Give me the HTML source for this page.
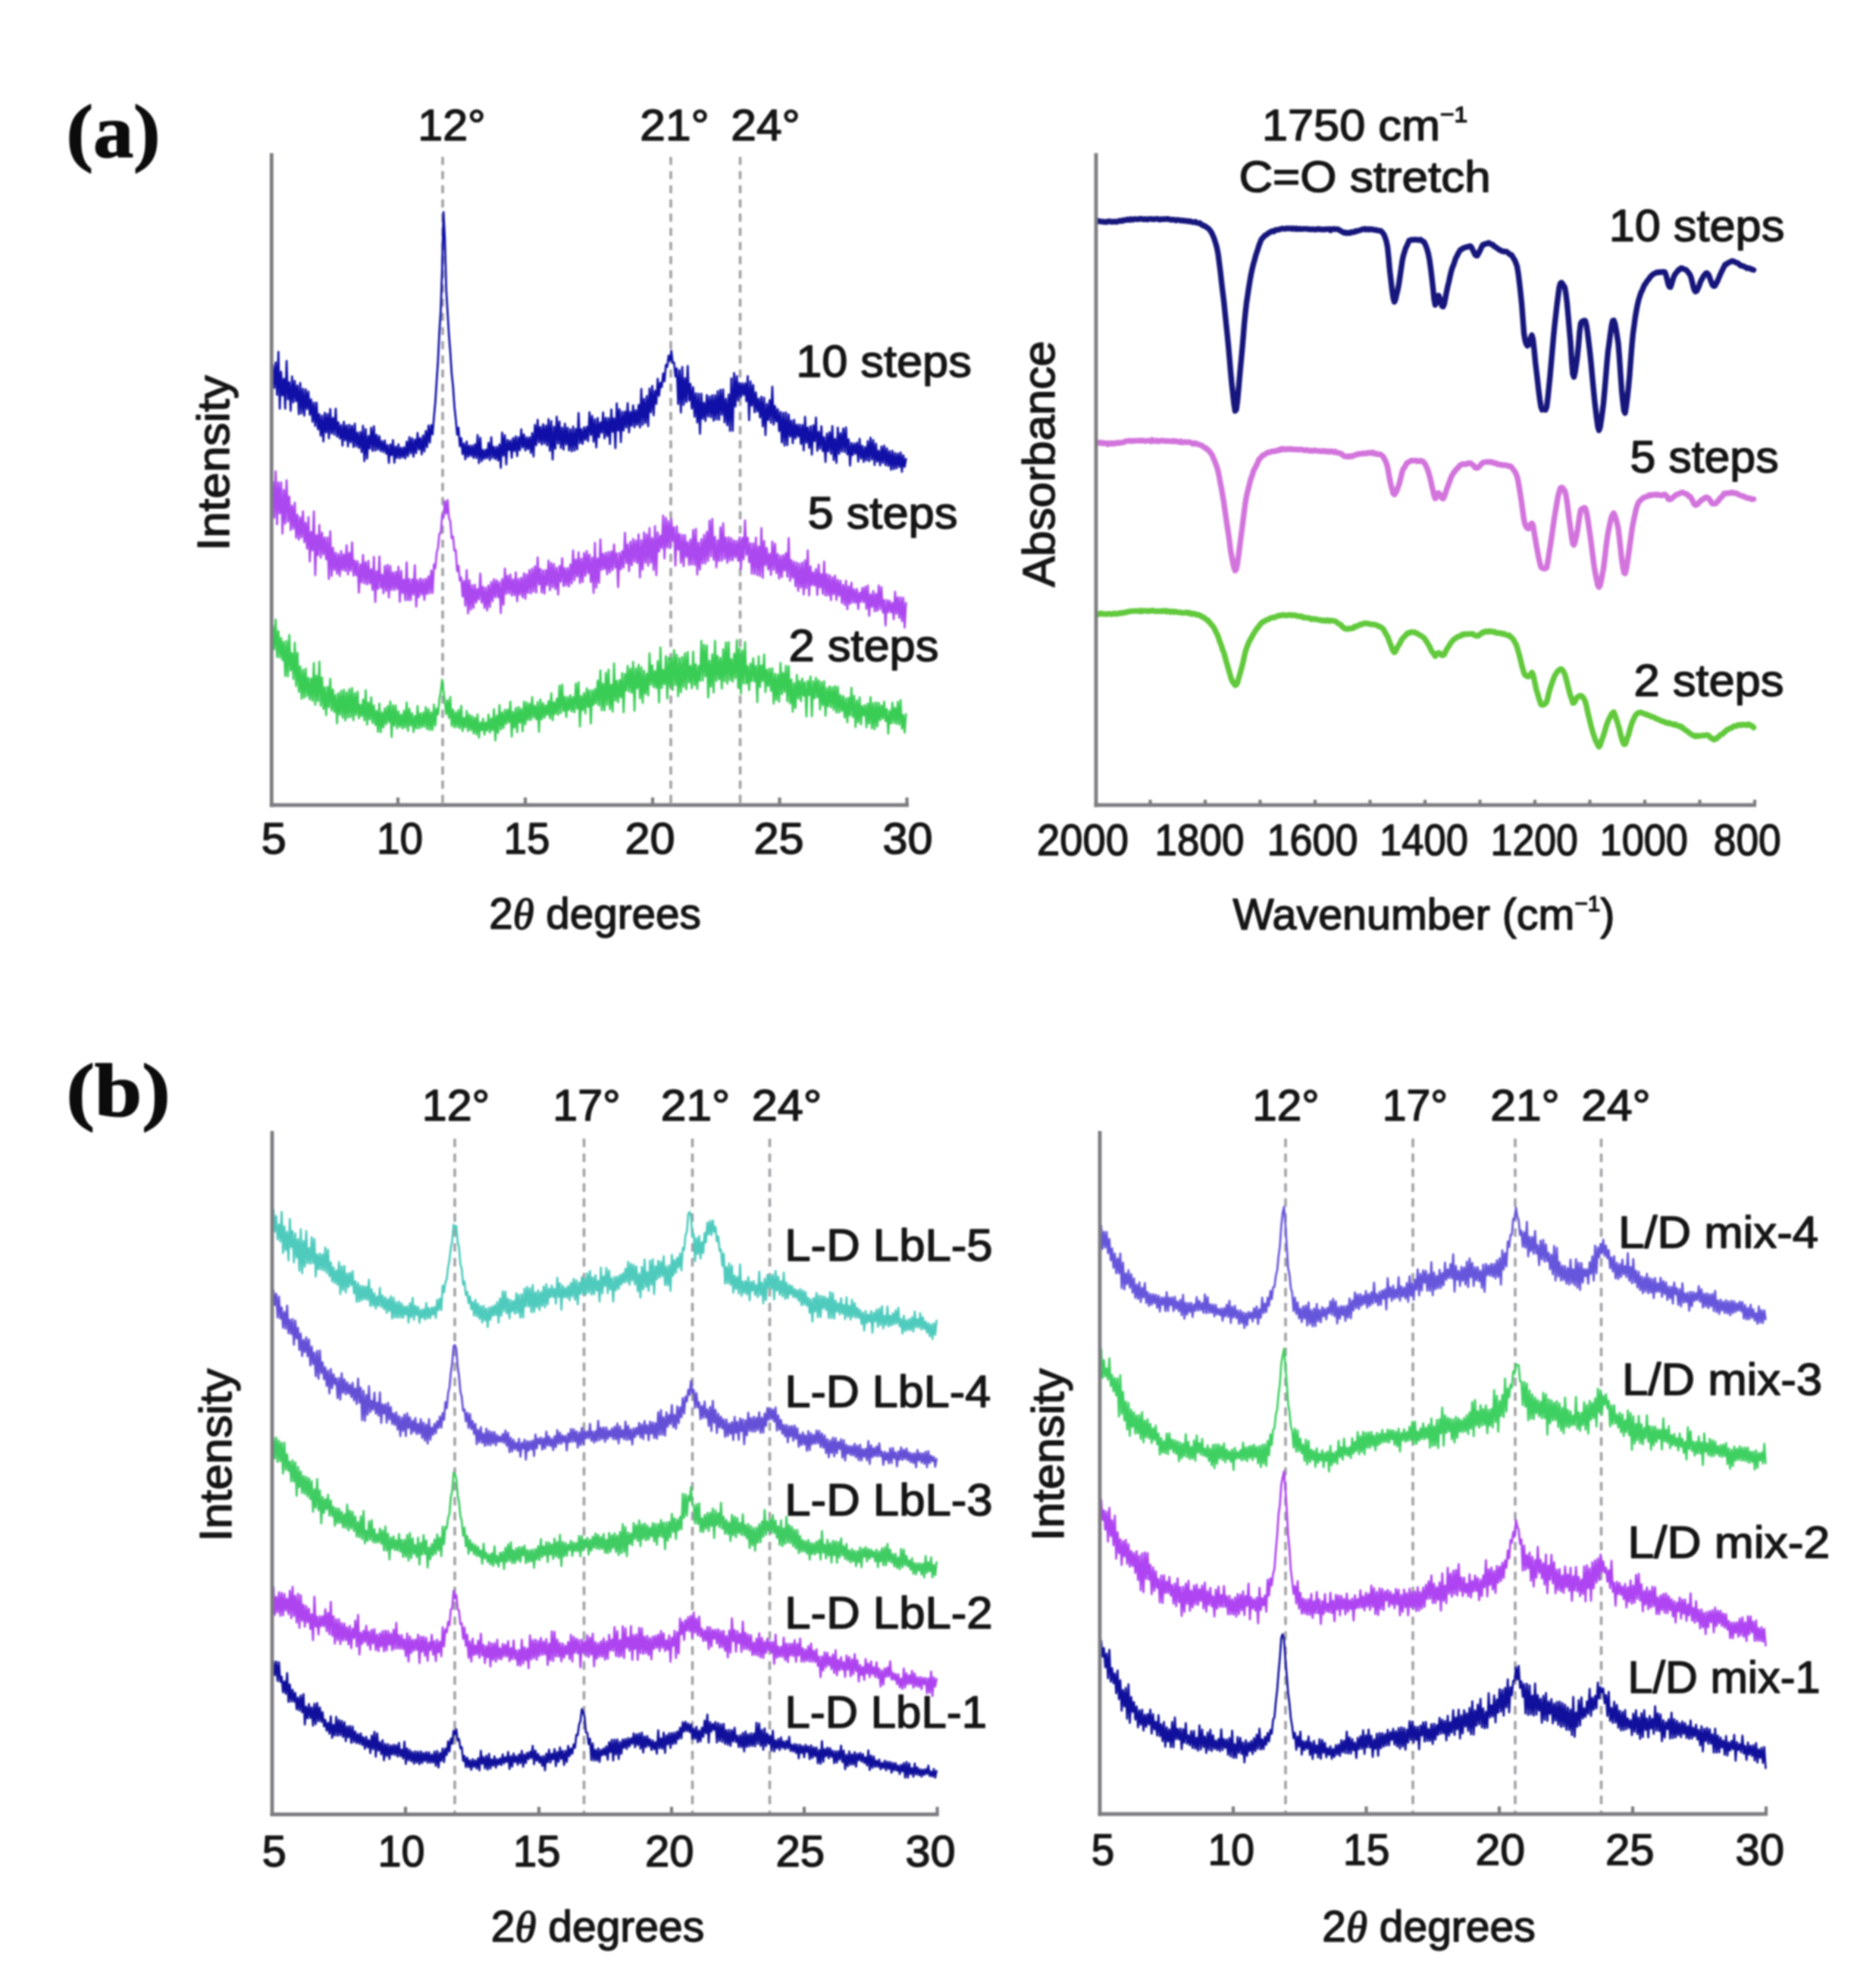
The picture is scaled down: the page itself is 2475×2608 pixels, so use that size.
<!DOCTYPE html>
<html lang="en">
<head>
<meta charset="utf-8">
<title>XRD and FTIR of stepwise and layer-by-layer films</title>
<style>
html,body{margin:0;padding:0;background:#ffffff;}
body{width:2475px;height:2608px;overflow:hidden;}
svg{display:block;filter:blur(1.3px);}
svg text{font-family:"Liberation Sans", sans-serif;fill:#161616;stroke:#161616;stroke-width:1.5px;stroke-linejoin:round;}
</style>
</head>
<body>
<svg width="2475" height="2608" viewBox="0 0 2475 2608">
<rect x="0" y="0" width="2475" height="2608" fill="#ffffff"/>
<text x="87.5" y="206.5" font-size="100" textLength="124.0" lengthAdjust="spacingAndGlyphs" style='font-family:"Liberation Serif", serif;fill:#0c0c0c;stroke:#0c0c0c' font-weight="bold">(a)</text>
<text x="87.4" y="1472.0" font-size="100" textLength="137.2" lengthAdjust="spacingAndGlyphs" style='font-family:"Liberation Serif", serif;fill:#0c0c0c;stroke:#0c0c0c' font-weight="bold">(b)</text>
<g id="a-left">
<line x1="584.0" y1="207.0" x2="584.0" y2="1062.0" stroke="#a0a0a4" stroke-width="3.5" stroke-dasharray="10.6 8.1"/>
<line x1="885.0" y1="207.0" x2="885.0" y2="1062.0" stroke="#a0a0a4" stroke-width="3.5" stroke-dasharray="10.6 8.1"/>
<line x1="976.5" y1="207.0" x2="976.5" y2="1062.0" stroke="#a0a0a4" stroke-width="3.5" stroke-dasharray="10.6 8.1"/>
<path d="M358.3,866.4 360.1,825.9 361.9,856.5 363.7,817.3 365.5,866.7 367.3,832.7 369.1,867.3 370.9,841.7 372.7,871.0 374.5,846.6 376.3,891.8 378.1,845.6 379.9,892.2 381.7,837.7 383.5,884.5 385.3,861.6 387.1,895.7 388.9,847.8 390.7,904.9 392.5,861.1 394.3,912.7 396.1,879.2 397.9,921.8 399.7,883.7 401.5,920.4 403.3,882.1 405.1,918.2 406.9,894.0 408.7,922.7 410.5,895.1 412.3,924.5 414.1,874.6 415.9,929.8 417.7,891.3 419.5,925.0 421.3,872.9 423.1,931.0 424.9,893.7 426.7,935.1 428.5,906.6 430.3,943.5 432.1,906.2 433.9,933.0 435.7,895.4 437.5,937.2 439.3,909.5 441.1,939.2 442.9,916.7 444.7,954.3 446.5,914.3 448.3,942.6 450.1,911.3 451.9,946.6 453.7,909.8 455.5,950.4 457.3,913.4 459.1,946.7 460.9,909.0 462.7,946.0 464.5,907.7 466.3,950.2 468.1,914.3 469.9,943.1 471.7,912.3 473.5,947.6 475.3,929.6 477.1,944.7 478.9,922.8 480.7,950.1 482.5,910.5 484.3,956.0 486.1,926.8 487.9,949.1 489.7,919.9 491.5,953.6 493.3,930.6 495.1,956.5 496.9,937.7 498.7,965.5 500.5,928.0 502.3,966.0 504.1,939.6 505.9,959.6 507.7,934.3 509.5,955.3 511.3,931.5 513.1,952.7 514.9,925.4 516.7,972.3 518.5,930.4 520.3,957.2 522.1,930.6 523.9,960.9 525.7,938.4 527.5,958.6 529.3,942.6 531.1,961.1 532.9,937.7 534.7,959.7 536.5,926.7 538.3,964.2 540.1,934.8 541.9,957.1 543.7,940.8 545.5,965.7 547.3,944.4 549.1,960.9 550.9,931.4 552.7,960.9 554.5,941.2 556.3,959.3 558.1,940.0 559.9,958.7 561.7,932.9 563.5,961.9 565.3,935.4 567.1,963.1 568.9,939.5 570.7,962.8 572.5,929.6 574.3,957.1 576.1,934.8 577.9,942.5 579.7,921.6 581.5,912.9 583.3,896.6 585.1,912.3 586.9,924.8 588.7,942.2 590.5,923.7 592.3,947.1 594.1,919.3 595.9,957.5 597.7,936.1 599.5,959.3 601.3,939.3 603.1,959.2 604.9,936.6 606.7,960.6 608.5,931.0 610.3,964.5 612.1,947.0 613.9,959.6 615.7,937.8 617.5,964.3 619.3,942.5 621.1,963.1 622.9,944.7 624.7,967.3 626.5,946.7 628.3,968.6 630.1,942.4 631.9,973.2 633.7,953.0 635.5,963.5 637.3,948.2 639.1,969.1 640.9,953.0 642.7,964.0 644.5,942.7 646.3,966.5 648.1,947.9 649.9,963.3 651.7,935.6 653.5,976.8 655.3,943.8 657.1,967.0 658.9,930.1 660.7,962.4 662.5,939.8 664.3,960.5 666.1,936.1 667.9,955.2 669.7,936.3 671.5,952.8 673.3,925.5 675.1,971.7 676.9,938.9 678.7,959.9 680.5,933.8 682.3,966.0 684.1,932.5 685.9,953.1 687.7,935.0 689.5,964.8 691.3,925.7 693.1,955.6 694.9,926.5 696.7,950.0 698.5,928.3 700.3,949.8 702.1,919.7 703.9,946.7 705.7,931.1 707.5,948.9 709.3,926.2 711.1,965.3 712.9,922.6 714.7,949.0 716.5,927.6 718.3,946.8 720.1,930.3 721.9,943.2 723.7,924.8 725.5,947.5 727.3,914.5 729.1,950.2 730.9,926.2 732.7,941.8 734.5,921.5 736.3,942.9 738.1,904.6 739.9,940.6 741.7,903.0 743.5,938.0 745.3,919.2 747.1,945.8 748.9,919.6 750.7,936.9 752.5,917.1 754.3,938.6 756.1,919.7 757.9,939.7 759.7,901.9 761.5,934.9 763.3,900.1 765.1,958.4 766.9,918.2 768.7,936.8 770.5,914.2 772.3,941.1 774.1,907.8 775.9,932.6 777.7,910.5 779.5,954.5 781.3,910.7 783.1,929.9 784.9,908.8 786.7,928.1 788.5,897.9 790.3,930.8 792.1,884.3 793.9,936.9 795.7,901.9 797.5,937.2 799.3,887.5 801.1,929.9 802.9,883.3 804.7,935.5 806.5,903.1 808.3,938.8 810.1,875.1 811.9,924.4 813.7,898.0 815.5,926.5 817.3,897.0 819.1,919.9 820.9,887.8 822.7,939.7 824.5,889.2 826.3,910.9 828.1,878.3 829.9,912.4 831.7,882.0 833.5,914.0 835.3,873.0 837.1,937.7 838.9,881.6 840.7,908.0 842.5,876.9 844.3,921.3 846.1,880.1 847.9,927.4 849.7,884.5 851.5,915.2 853.3,888.7 855.1,917.5 856.9,861.8 858.7,903.5 860.5,877.5 862.3,906.4 864.1,885.2 865.9,907.7 867.7,872.2 869.5,926.7 871.3,854.1 873.1,907.7 874.9,883.9 876.7,902.6 878.5,865.5 880.3,921.4 882.1,867.7 883.9,905.0 885.7,867.6 887.5,910.1 889.3,857.6 891.1,903.8 892.9,863.7 894.7,918.5 896.5,868.1 898.3,913.1 900.1,866.6 901.9,906.3 903.7,861.7 905.5,909.3 907.3,860.2 909.1,900.3 910.9,878.5 912.7,908.0 914.5,859.6 916.3,903.9 918.1,876.2 919.9,908.8 921.7,878.6 923.5,898.1 925.3,845.4 927.1,897.8 928.9,850.7 930.7,892.3 932.5,851.6 934.3,920.2 936.1,871.3 937.9,906.0 939.7,863.2 941.5,913.6 943.3,845.4 945.1,898.3 946.9,865.4 948.7,896.1 950.5,867.9 952.3,908.5 954.1,856.4 955.9,898.8 957.7,847.5 959.5,901.9 961.3,847.2 963.1,897.4 964.9,869.4 966.7,899.1 968.5,862.4 970.3,894.4 972.1,844.5 973.9,907.2 975.7,855.7 977.5,914.9 979.3,858.0 981.1,901.7 982.9,847.2 984.7,901.6 986.5,878.6 988.3,910.4 990.1,875.4 991.9,898.6 993.7,868.3 995.5,899.0 997.3,878.6 999.1,926.4 1000.9,865.8 1002.7,906.4 1004.5,877.9 1006.3,898.6 1008.1,863.3 1009.9,913.0 1011.7,883.4 1013.5,904.8 1015.3,881.9 1017.1,911.4 1018.9,881.7 1020.7,928.2 1022.5,888.8 1024.3,923.5 1026.1,889.9 1027.9,925.6 1029.7,874.5 1031.5,915.8 1033.3,887.5 1035.1,912.8 1036.9,878.3 1038.7,925.2 1040.5,878.9 1042.3,927.9 1044.1,896.3 1045.9,938.9 1047.7,901.3 1049.5,934.0 1051.3,890.3 1053.1,921.4 1054.9,898.0 1056.7,924.8 1058.5,895.0 1060.3,917.9 1062.1,900.0 1063.9,945.1 1065.7,898.1 1067.5,916.9 1069.3,892.4 1071.1,944.9 1072.9,898.7 1074.7,921.2 1076.5,894.2 1078.3,920.0 1080.1,897.4 1081.9,935.9 1083.7,899.8 1085.5,930.5 1087.3,898.5 1089.1,944.3 1090.9,907.5 1092.7,931.9 1094.5,905.4 1096.3,932.9 1098.1,906.5 1099.9,936.4 1101.7,905.1 1103.5,940.0 1105.3,906.0 1107.1,939.9 1108.9,916.8 1110.7,937.8 1112.5,918.0 1114.3,946.5 1116.1,921.1 1117.9,953.0 1119.7,920.3 1121.5,944.0 1123.3,907.4 1125.1,945.9 1126.9,917.8 1128.7,959.1 1130.5,924.2 1132.3,953.0 1134.1,919.9 1135.9,955.7 1137.7,931.1 1139.5,943.8 1141.3,930.1 1143.1,959.3 1144.9,928.1 1146.7,954.6 1148.5,919.5 1150.3,960.8 1152.1,927.6 1153.9,962.0 1155.7,926.5 1157.5,958.2 1159.3,927.2 1161.1,950.4 1162.9,930.6 1164.7,948.2 1166.5,925.6 1168.3,951.3 1170.1,935.4 1171.9,967.8 1173.7,937.8 1175.5,954.4 1177.3,927.0 1179.1,953.6 1180.9,933.5 1182.7,955.0 1184.5,925.9 1186.3,955.6 1188.1,923.4 1189.9,961.1 1191.7,943.1 1193.5,966.4 1195.3,942.0" fill="none" stroke="#3acd55" stroke-width="2.7" stroke-linejoin="round" stroke-linecap="round"/>
<path d="M358.3,647.4 360.1,635.7 361.9,682.9 363.7,621.9 365.5,691.6 367.3,636.4 369.1,677.2 370.9,636.3 372.7,703.9 374.5,646.4 376.3,690.8 378.1,633.5 379.9,687.9 381.7,655.0 383.5,699.1 385.3,667.2 387.1,697.5 388.9,663.0 390.7,709.4 392.5,679.2 394.3,711.9 396.1,682.3 397.9,708.8 399.7,674.5 401.5,715.1 403.3,689.6 405.1,723.6 406.9,682.0 408.7,740.6 410.5,701.7 412.3,726.0 414.1,674.7 415.9,758.7 417.7,705.9 419.5,732.4 421.3,692.6 423.1,735.8 424.9,702.7 426.7,731.5 428.5,709.2 430.3,738.0 432.1,708.8 433.9,763.6 435.7,700.8 437.5,759.6 439.3,722.6 441.1,751.8 442.9,729.2 444.7,757.0 446.5,730.8 448.3,759.8 450.1,726.9 451.9,752.2 453.7,731.4 455.5,753.1 457.3,719.4 459.1,757.8 460.9,729.3 462.7,752.9 464.5,715.5 466.3,759.3 468.1,739.4 469.9,758.9 471.7,740.2 473.5,781.8 475.3,744.3 477.1,768.2 478.9,732.1 480.7,769.6 482.5,741.5 484.3,771.0 486.1,739.9 487.9,769.6 489.7,751.0 491.5,778.2 493.3,734.7 495.1,794.1 496.9,753.5 498.7,776.9 500.5,734.2 502.3,775.4 504.1,758.0 505.9,782.7 507.7,746.6 509.5,779.4 511.3,745.0 513.1,788.2 514.9,746.6 516.7,778.2 518.5,755.1 520.3,778.4 522.1,754.3 523.9,777.0 525.7,747.5 527.5,794.0 529.3,753.2 531.1,782.4 532.9,764.5 534.7,791.6 536.5,741.9 538.3,791.9 540.1,764.2 541.9,791.7 543.7,764.1 545.5,784.2 547.3,745.6 549.1,800.3 550.9,765.1 552.7,787.9 554.5,763.1 556.3,784.5 558.1,764.3 559.9,791.4 561.7,763.7 563.5,783.7 565.3,760.2 567.1,782.7 568.9,752.7 570.7,782.3 572.5,744.6 574.3,749.6 576.1,729.2 577.9,722.5 579.7,703.8 581.5,703.5 583.3,679.5 585.1,682.8 586.9,661.0 588.7,677.6 590.5,659.6 592.3,683.2 594.1,687.6 595.9,710.0 597.7,707.8 599.5,726.4 601.3,725.8 603.1,753.3 604.9,746.4 606.7,766.0 608.5,761.9 610.3,786.9 612.1,766.4 613.9,798.9 615.7,752.2 617.5,809.2 619.3,765.4 621.1,804.3 622.9,772.1 624.7,801.9 626.5,771.3 628.3,794.9 630.1,777.1 631.9,790.8 633.7,756.7 635.5,794.9 637.3,774.2 639.1,802.0 640.9,775.2 642.7,805.3 644.5,772.0 646.3,801.0 648.1,767.8 649.9,793.1 651.7,764.0 653.5,787.9 655.3,765.3 657.1,788.0 658.9,767.9 660.7,808.8 662.5,763.8 664.3,797.7 666.1,750.0 667.9,783.5 669.7,759.3 671.5,782.7 673.3,757.9 675.1,785.6 676.9,764.4 678.7,785.2 680.5,755.2 682.3,793.2 684.1,763.7 685.9,784.3 687.7,762.2 689.5,787.8 691.3,756.4 693.1,790.0 694.9,757.6 696.7,782.2 698.5,752.2 700.3,782.9 702.1,750.1 703.9,780.4 705.7,747.2 707.5,781.6 709.3,735.4 711.1,771.1 712.9,750.4 714.7,781.7 716.5,752.3 718.3,783.1 720.1,752.1 721.9,771.9 723.7,739.5 725.5,778.7 727.3,742.7 729.1,774.6 730.9,744.1 732.7,777.0 734.5,749.1 736.3,784.4 738.1,746.7 739.9,767.3 741.7,736.4 743.5,773.1 745.3,749.5 747.1,772.2 748.9,749.3 750.7,773.6 752.5,744.6 754.3,769.7 756.1,726.2 757.9,765.5 759.7,738.2 761.5,760.5 763.3,728.7 765.1,769.1 766.9,736.8 768.7,767.7 770.5,729.6 772.3,759.6 774.1,726.8 775.9,756.2 777.7,731.6 779.5,767.7 781.3,735.5 783.1,782.2 784.9,716.1 786.7,775.3 788.5,736.7 790.3,768.8 792.1,711.6 793.9,751.8 795.7,730.6 797.5,750.7 799.3,729.1 801.1,757.7 802.9,728.2 804.7,754.8 806.5,727.3 808.3,751.9 810.1,718.3 811.9,748.6 813.7,729.8 815.5,774.4 817.3,729.3 819.1,751.0 820.9,726.9 822.7,748.8 824.5,702.8 826.3,742.8 828.1,718.0 829.9,753.4 831.7,714.5 833.5,745.7 835.3,710.9 837.1,740.8 838.9,713.1 840.7,742.7 842.5,704.8 844.3,761.6 846.1,712.7 847.9,751.4 849.7,702.4 851.5,742.1 853.3,704.9 855.1,746.1 856.9,696.7 858.7,742.1 860.5,709.9 862.3,751.9 864.1,694.2 865.9,758.6 867.7,702.4 869.5,727.6 871.3,706.6 873.1,723.2 874.9,680.0 876.7,736.7 878.5,683.1 880.3,722.2 882.1,687.3 883.9,723.3 885.7,684.7 887.5,713.5 889.3,695.7 891.1,746.2 892.9,694.4 894.7,725.2 896.5,704.4 898.3,742.3 900.1,705.6 901.9,746.9 903.7,705.9 905.5,734.5 907.3,715.0 909.1,745.1 910.9,711.6 912.7,744.8 914.5,699.2 916.3,745.1 918.1,697.7 919.9,758.0 921.7,715.8 923.5,751.3 925.3,711.0 927.1,743.4 928.9,705.7 930.7,743.3 932.5,701.5 934.3,739.8 936.1,686.8 937.9,734.0 939.7,684.5 941.5,738.3 943.3,708.2 945.1,748.5 946.9,712.7 948.7,740.2 950.5,695.5 952.3,739.8 954.1,690.3 955.9,737.0 957.7,709.2 959.5,742.5 961.3,708.7 963.1,739.3 964.9,710.0 966.7,739.1 968.5,713.2 970.3,735.2 972.1,713.7 973.9,739.6 975.7,708.8 977.5,750.6 979.3,709.5 981.1,737.9 982.9,686.6 984.7,731.9 986.5,709.3 988.3,741.6 990.1,716.7 991.9,756.8 993.7,716.9 995.5,757.1 997.3,709.2 999.1,758.7 1000.9,720.8 1002.7,759.9 1004.5,696.6 1006.3,762.3 1008.1,713.6 1009.9,745.7 1011.7,722.8 1013.5,751.2 1015.3,730.5 1017.1,758.5 1018.9,714.4 1020.7,751.6 1022.5,717.4 1024.3,756.1 1026.1,730.8 1027.9,763.2 1029.7,733.1 1031.5,761.2 1033.3,732.4 1035.1,752.7 1036.9,729.5 1038.7,760.6 1040.5,709.9 1042.3,766.2 1044.1,738.8 1045.9,762.1 1047.7,741.2 1049.5,773.3 1051.3,742.0 1053.1,779.4 1054.9,743.5 1056.7,774.8 1058.5,742.2 1060.3,784.2 1062.1,739.1 1063.9,775.9 1065.7,726.0 1067.5,785.4 1069.3,747.2 1071.1,772.0 1072.9,754.8 1074.7,772.5 1076.5,750.7 1078.3,785.0 1080.1,744.9 1081.9,775.2 1083.7,757.3 1085.5,783.5 1087.3,740.9 1089.1,785.7 1090.9,757.6 1092.7,785.5 1094.5,758.5 1096.3,791.7 1098.1,761.4 1099.9,784.0 1101.7,759.3 1103.5,791.4 1105.3,764.9 1107.1,785.9 1108.9,766.0 1110.7,795.4 1112.5,771.5 1114.3,798.0 1116.1,766.0 1117.9,803.7 1119.7,773.4 1121.5,796.6 1123.3,768.5 1125.1,795.0 1126.9,777.3 1128.7,795.2 1130.5,776.9 1132.3,803.3 1134.1,781.5 1135.9,793.9 1137.7,775.7 1139.5,794.5 1141.3,774.0 1143.1,803.2 1144.9,772.4 1146.7,812.5 1148.5,783.8 1150.3,800.3 1152.1,779.7 1153.9,806.5 1155.7,783.4 1157.5,805.9 1159.3,772.4 1161.1,803.7 1162.9,774.6 1164.7,808.0 1166.5,791.4 1168.3,825.3 1170.1,791.5 1171.9,807.6 1173.7,792.4 1175.5,807.8 1177.3,795.0 1179.1,816.9 1180.9,780.5 1182.7,809.7 1184.5,787.9 1186.3,814.9 1188.1,787.8 1189.9,819.4 1191.7,788.6 1193.5,828.0 1195.3,795.4" fill="none" stroke="#ac48f0" stroke-width="2.7" stroke-linejoin="round" stroke-linecap="round"/>
<path d="M358.3,515.3 360.1,481.5 361.9,511.6 363.7,478.2 365.5,521.0 367.3,464.2 369.1,539.1 370.9,490.3 372.7,521.6 374.5,499.6 376.3,539.2 378.1,476.2 379.9,526.6 381.7,504.3 383.5,541.9 385.3,496.5 387.1,530.7 388.9,502.4 390.7,529.2 392.5,508.5 394.3,546.4 396.1,505.1 397.9,545.5 399.7,512.8 401.5,548.3 403.3,513.7 405.1,539.6 406.9,516.6 408.7,547.2 410.5,526.8 412.3,556.4 414.1,531.1 415.9,561.9 417.7,531.1 419.5,566.3 421.3,546.4 423.1,575.0 424.9,548.3 426.7,582.4 428.5,544.6 430.3,570.5 432.1,546.2 433.9,578.1 435.7,539.5 437.5,571.8 439.3,551.4 441.1,573.5 442.9,539.1 444.7,576.0 446.5,557.2 448.3,578.3 450.1,560.6 451.9,587.8 453.7,556.4 455.5,580.9 457.3,561.0 459.1,589.0 460.9,560.4 462.7,583.4 464.5,561.9 466.3,589.7 468.1,558.8 469.9,588.8 471.7,570.7 473.5,590.9 475.3,569.9 477.1,596.5 478.9,561.7 480.7,608.3 482.5,566.1 484.3,605.0 486.1,575.0 487.9,591.6 489.7,564.3 491.5,594.9 493.3,562.3 495.1,594.3 496.9,573.7 498.7,593.2 500.5,575.3 502.3,595.2 504.1,581.8 505.9,596.4 507.7,581.1 509.5,598.5 511.3,587.1 513.1,610.6 514.9,586.4 516.7,600.6 518.5,580.7 520.3,610.3 522.1,589.2 523.9,604.2 525.7,586.2 527.5,604.6 529.3,590.5 531.1,603.3 532.9,590.2 534.7,604.9 536.5,582.5 538.3,601.6 540.1,576.7 541.9,598.1 543.7,578.0 545.5,602.4 547.3,579.9 549.1,597.6 550.9,571.2 552.7,592.9 554.5,577.8 556.3,599.3 558.1,574.4 559.9,595.7 561.7,568.7 563.5,589.9 565.3,561.3 567.1,583.9 568.9,560.8 570.7,573.1 572.5,550.5 574.3,530.5 576.1,502.5 577.9,475.1 579.7,437.1 581.5,409.5 583.3,354.6 585.1,279.9 586.9,314.2 588.7,382.2 590.5,412.0 592.3,441.8 594.1,464.6 595.9,492.8 597.7,509.9 599.5,536.2 601.3,553.0 603.1,573.5 604.9,564.2 606.7,588.6 608.5,577.8 610.3,599.2 612.1,585.2 613.9,605.8 615.7,582.4 617.5,602.7 619.3,587.8 621.1,601.4 622.9,587.7 624.7,604.0 626.5,586.2 628.3,604.2 630.1,573.8 631.9,611.0 633.7,577.6 635.5,608.3 637.3,593.7 639.1,605.4 640.9,593.0 642.7,604.5 644.5,584.1 646.3,606.9 648.1,576.9 649.9,604.2 651.7,589.3 653.5,605.7 655.3,589.3 657.1,607.5 658.9,586.3 660.7,617.2 662.5,570.7 664.3,601.1 666.1,574.2 667.9,612.7 669.7,580.3 671.5,593.7 673.3,581.1 675.1,603.8 676.9,577.9 678.7,595.1 680.5,575.6 682.3,601.7 684.1,576.9 685.9,593.9 687.7,566.3 689.5,590.3 691.3,573.0 693.1,594.3 694.9,576.9 696.7,592.5 698.5,576.9 700.3,597.4 702.1,571.3 703.9,602.2 705.7,560.5 707.5,587.5 709.3,553.9 711.1,583.6 712.9,563.0 714.7,586.4 716.5,559.7 718.3,585.2 720.1,561.3 721.9,587.6 723.7,552.9 725.5,594.7 727.3,555.6 729.1,606.2 730.9,562.8 732.7,592.0 734.5,549.7 736.3,585.2 738.1,556.2 739.9,590.8 741.7,564.0 743.5,593.1 745.3,558.9 747.1,586.3 748.9,564.1 750.7,594.2 752.5,566.4 754.3,595.3 756.1,562.5 757.9,594.3 759.7,565.9 761.5,592.7 763.3,544.9 765.1,584.6 766.9,566.2 768.7,585.6 770.5,563.6 772.3,580.2 774.1,563.2 775.9,582.0 777.7,543.8 779.5,573.9 781.3,548.7 783.1,582.7 784.9,553.2 786.7,590.1 788.5,551.4 790.3,576.9 792.1,557.4 793.9,570.9 795.7,544.2 797.5,578.3 799.3,551.2 801.1,575.3 802.9,551.6 804.7,585.6 806.5,540.1 808.3,569.6 810.1,551.9 811.9,591.2 813.7,532.2 815.5,568.1 817.3,539.9 819.1,583.3 820.9,543.2 822.7,568.0 824.5,542.9 826.3,563.8 828.1,531.8 829.9,570.5 831.7,543.4 833.5,561.7 835.3,534.9 837.1,563.7 838.9,541.2 840.7,560.5 842.5,534.0 844.3,564.0 846.1,513.1 847.9,560.5 849.7,526.0 851.5,557.9 853.3,522.3 855.1,562.2 856.9,512.6 858.7,544.0 860.5,509.1 862.3,547.9 864.1,515.7 865.9,532.7 867.7,499.5 869.5,522.1 871.3,504.9 873.1,510.6 874.9,492.6 876.7,503.1 878.5,481.4 880.3,484.0 882.1,469.0 883.9,475.7 885.7,462.8 887.5,478.6 889.3,478.3 891.1,496.6 892.9,485.9 894.7,533.0 896.5,488.3 898.3,544.2 900.1,484.0 901.9,534.3 903.7,498.8 905.5,530.4 907.3,482.9 909.1,528.3 910.9,506.4 912.7,539.0 914.5,510.8 916.3,549.6 918.1,518.9 919.9,557.5 921.7,519.3 923.5,572.1 925.3,519.4 927.1,552.4 928.9,531.3 930.7,555.3 932.5,521.1 934.3,549.3 936.1,523.2 937.9,550.5 939.7,521.3 941.5,554.9 943.3,521.3 945.1,553.3 946.9,516.1 948.7,553.6 950.5,514.2 952.3,547.2 954.1,513.8 955.9,557.2 957.7,526.1 959.5,561.0 961.3,520.4 963.1,568.4 964.9,499.1 966.7,568.3 968.5,492.0 970.3,536.2 972.1,496.2 973.9,528.5 975.7,505.0 977.5,524.0 979.3,505.7 981.1,521.0 982.9,505.6 984.7,529.3 986.5,496.2 988.3,554.3 990.1,503.2 991.9,535.1 993.7,507.9 995.5,544.0 997.3,517.6 999.1,542.9 1000.9,525.9 1002.7,550.7 1004.5,523.3 1006.3,562.4 1008.1,524.5 1009.9,574.0 1011.7,532.9 1013.5,554.2 1015.3,527.8 1017.1,557.6 1018.9,510.2 1020.7,560.1 1022.5,535.5 1024.3,556.1 1026.1,539.6 1027.9,568.6 1029.7,543.3 1031.5,583.7 1033.3,544.5 1035.1,587.8 1036.9,544.0 1038.7,587.2 1040.5,546.9 1042.3,575.9 1044.1,554.9 1045.9,584.7 1047.7,553.8 1049.5,578.5 1051.3,560.0 1053.1,575.8 1054.9,560.2 1056.7,585.6 1058.5,560.6 1060.3,594.2 1062.1,549.9 1063.9,584.2 1065.7,563.9 1067.5,590.8 1069.3,562.4 1071.1,599.8 1072.9,561.1 1074.7,582.0 1076.5,550.8 1078.3,594.7 1080.1,569.6 1081.9,592.0 1083.7,562.3 1085.5,595.2 1087.3,576.8 1089.1,609.5 1090.9,571.8 1092.7,595.3 1094.5,570.2 1096.3,598.6 1098.1,562.1 1099.9,607.0 1101.7,578.9 1103.5,610.7 1105.3,564.2 1107.1,598.6 1108.9,571.3 1110.7,595.7 1112.5,565.3 1114.3,596.4 1116.1,563.8 1117.9,599.5 1119.7,579.6 1121.5,614.1 1123.3,584.3 1125.1,600.3 1126.9,585.1 1128.7,598.5 1130.5,583.8 1132.3,608.8 1134.1,578.9 1135.9,605.0 1137.7,588.1 1139.5,609.4 1141.3,589.7 1143.1,607.3 1144.9,581.8 1146.7,608.5 1148.5,577.3 1150.3,606.2 1152.1,580.6 1153.9,613.4 1155.7,585.4 1157.5,608.8 1159.3,594.5 1161.1,613.8 1162.9,589.1 1164.7,610.7 1166.5,587.8 1168.3,613.7 1170.1,591.3 1171.9,614.6 1173.7,595.2 1175.5,619.6 1177.3,594.7 1179.1,618.9 1180.9,597.5 1182.7,617.9 1184.5,598.4 1186.3,616.0 1188.1,596.8 1189.9,622.4 1191.7,600.5 1193.5,615.9 1195.3,605.4" fill="none" stroke="#1010a8" stroke-width="2.7" stroke-linejoin="round" stroke-linecap="round"/>
<line x1="358.3" y1="202.0" x2="358.3" y2="1064.4" stroke="#7c7c81" stroke-width="4.8"/>
<line x1="355.9" y1="1062.0" x2="1199.0" y2="1062.0" stroke="#7c7c81" stroke-width="4.8"/>
<line x1="525.0" y1="1052.0" x2="525.0" y2="1062.0" stroke="#7c7c81" stroke-width="4.2"/>
<line x1="693.0" y1="1052.0" x2="693.0" y2="1062.0" stroke="#7c7c81" stroke-width="4.2"/>
<line x1="861.0" y1="1052.0" x2="861.0" y2="1062.0" stroke="#7c7c81" stroke-width="4.2"/>
<line x1="1028.5" y1="1052.0" x2="1028.5" y2="1062.0" stroke="#7c7c81" stroke-width="4.2"/>
<line x1="1196.5" y1="1052.0" x2="1196.5" y2="1062.0" stroke="#7c7c81" stroke-width="4.2"/>
<text x="551.3" y="185.0" font-size="58" textLength="89.4" lengthAdjust="spacingAndGlyphs">12°</text>
<text x="844.3" y="185.0" font-size="58" textLength="91.4" lengthAdjust="spacingAndGlyphs">21°</text>
<text x="964.3" y="185.0" font-size="58" textLength="91.4" lengthAdjust="spacingAndGlyphs">24°</text>
<text x="1050.2" y="497.0" font-size="60" textLength="231.6" lengthAdjust="spacingAndGlyphs">10 steps</text>
<text x="1065.4" y="697.0" font-size="60" textLength="198.1" lengthAdjust="spacingAndGlyphs">5 steps</text>
<text x="1040.4" y="872.0" font-size="60" textLength="198.1" lengthAdjust="spacingAndGlyphs">2 steps</text>
<text x="344.7" y="1126.0" font-size="58" textLength="33.0" lengthAdjust="spacingAndGlyphs">5</text>
<text x="497.0" y="1126.0" font-size="58" textLength="61.0" lengthAdjust="spacingAndGlyphs">10</text>
<text x="664.5" y="1126.0" font-size="58" textLength="61.0" lengthAdjust="spacingAndGlyphs">15</text>
<text x="824.5" y="1126.0" font-size="58" textLength="66.0" lengthAdjust="spacingAndGlyphs">20</text>
<text x="994.5" y="1126.0" font-size="58" textLength="66.0" lengthAdjust="spacingAndGlyphs">25</text>
<text x="1164.5" y="1126.0" font-size="58" textLength="66.0" lengthAdjust="spacingAndGlyphs">30</text>
<text x="645.3" y="1225.0" font-size="58" textLength="279.4" lengthAdjust="spacingAndGlyphs">2<tspan style='font-family:"Liberation Serif", serif' font-style="italic">θ</tspan> degrees</text>
<text x="302.0" y="726.8" font-size="60" textLength="231.6" lengthAdjust="spacingAndGlyphs" transform="rotate(-90 302.0 726.8)">Intensity</text>
</g>
<g id="a-right">
<path d="M1448.0,810.7 1449.5,809.9 1451.0,809.8 1452.5,808.9 1454.0,810.0 1455.5,809.9 1457.0,809.8 1458.5,810.1 1460.0,810.2 1461.5,809.6 1463.0,809.6 1464.5,809.8 1466.0,810.3 1467.5,810.2 1469.0,809.3 1470.5,809.3 1472.0,809.9 1473.5,810.0 1475.0,809.2 1476.5,808.7 1478.0,809.2 1479.5,808.4 1481.0,808.5 1482.5,808.6 1484.0,808.0 1485.5,807.5 1487.0,807.5 1488.5,806.8 1490.0,806.7 1491.5,806.4 1493.0,806.3 1494.5,806.1 1496.0,806.1 1497.5,805.9 1499.0,806.0 1500.5,806.0 1502.0,806.1 1503.5,806.6 1505.0,805.4 1506.5,806.5 1508.0,805.9 1509.5,805.5 1511.0,805.9 1512.5,806.0 1514.0,806.4 1515.5,805.6 1517.0,806.1 1518.5,806.0 1520.0,805.3 1521.5,805.5 1523.0,806.2 1524.5,806.3 1526.0,806.4 1527.5,806.2 1529.0,806.2 1530.5,806.1 1532.0,806.5 1533.5,805.7 1535.0,806.0 1536.5,806.3 1538.0,805.6 1539.5,806.8 1541.0,806.1 1542.5,806.4 1544.0,807.4 1545.5,806.4 1547.0,806.6 1548.5,807.6 1550.0,806.6 1551.5,807.0 1553.0,807.5 1554.5,807.7 1556.0,807.9 1557.5,807.9 1559.0,808.4 1560.5,808.5 1562.0,808.4 1563.5,808.1 1565.0,808.2 1566.5,807.9 1568.0,809.1 1569.5,808.3 1571.0,809.6 1572.5,810.2 1574.0,809.3 1575.5,809.7 1577.0,810.1 1578.5,811.0 1580.0,810.7 1581.5,811.4 1583.0,811.8 1584.5,812.6 1586.0,813.9 1587.5,813.9 1589.0,815.3 1590.5,816.5 1592.0,817.8 1593.5,818.2 1595.0,820.4 1596.5,821.7 1598.0,823.7 1599.5,825.4 1601.0,827.1 1602.5,830.1 1604.0,833.4 1605.5,836.0 1607.0,839.4 1608.5,844.1 1610.0,848.5 1611.5,852.0 1613.0,857.3 1614.5,860.5 1616.0,865.6 1617.5,871.9 1619.0,876.6 1620.5,881.9 1622.0,887.2 1623.5,892.3 1625.0,897.1 1626.5,899.9 1628.0,901.8 1629.5,904.0 1631.0,903.4 1632.5,901.0 1634.0,895.2 1635.5,890.2 1637.0,884.8 1638.5,879.4 1640.0,873.6 1641.5,866.3 1643.0,859.8 1644.5,855.1 1646.0,851.4 1647.5,847.3 1649.0,844.4 1650.5,842.2 1652.0,839.3 1653.5,836.5 1655.0,834.1 1656.5,831.9 1658.0,829.2 1659.5,828.1 1661.0,825.9 1662.5,824.0 1664.0,821.9 1665.5,820.8 1667.0,820.2 1668.5,819.2 1670.0,818.1 1671.5,817.8 1673.0,817.3 1674.5,816.1 1676.0,815.6 1677.5,815.0 1679.0,814.4 1680.5,814.7 1682.0,814.2 1683.5,813.7 1685.0,812.7 1686.5,812.3 1688.0,812.3 1689.5,811.8 1691.0,811.7 1692.5,811.1 1694.0,811.4 1695.5,811.8 1697.0,811.6 1698.5,811.7 1700.0,811.1 1701.5,811.5 1703.0,811.2 1704.5,811.8 1706.0,811.5 1707.5,811.7 1709.0,811.8 1710.5,812.6 1712.0,812.7 1713.5,813.0 1715.0,812.8 1716.5,813.6 1718.0,813.3 1719.5,814.8 1721.0,814.5 1722.5,814.9 1724.0,815.1 1725.5,814.9 1727.0,815.3 1728.5,816.1 1730.0,817.0 1731.5,816.2 1733.0,816.6 1734.5,817.1 1736.0,816.7 1737.5,816.9 1739.0,817.6 1740.5,817.9 1742.0,817.8 1743.5,818.7 1745.0,818.2 1746.5,818.5 1748.0,819.1 1749.5,819.2 1751.0,818.0 1752.5,818.6 1754.0,819.4 1755.5,818.5 1757.0,818.9 1758.5,818.9 1760.0,819.1 1761.5,819.5 1763.0,820.4 1764.5,821.6 1766.0,822.8 1767.5,823.5 1769.0,824.1 1770.5,826.3 1772.0,827.5 1773.5,828.9 1775.0,829.5 1776.5,829.3 1778.0,830.1 1779.5,829.0 1781.0,829.2 1782.5,829.2 1784.0,828.7 1785.5,828.6 1787.0,826.4 1788.5,826.8 1790.0,826.3 1791.5,825.2 1793.0,825.0 1794.5,823.7 1796.0,823.9 1797.5,823.4 1799.0,822.4 1800.5,822.3 1802.0,822.4 1803.5,822.3 1805.0,823.0 1806.5,822.8 1808.0,823.5 1809.5,823.7 1811.0,823.6 1812.5,823.9 1814.0,824.0 1815.5,824.5 1817.0,825.1 1818.5,826.1 1820.0,826.2 1821.5,827.3 1823.0,828.2 1824.5,829.4 1826.0,831.6 1827.5,834.6 1829.0,837.3 1830.5,839.3 1832.0,843.4 1833.5,847.4 1835.0,851.1 1836.5,855.7 1838.0,858.8 1839.5,860.5 1841.0,859.6 1842.5,856.1 1844.0,853.3 1845.5,850.8 1847.0,848.4 1848.5,845.1 1850.0,842.8 1851.5,841.0 1853.0,839.6 1854.5,838.0 1856.0,836.3 1857.5,834.9 1859.0,835.2 1860.5,834.4 1862.0,833.6 1863.5,833.9 1865.0,834.1 1866.5,834.0 1868.0,835.3 1869.5,835.5 1871.0,836.4 1872.5,837.6 1874.0,838.1 1875.5,839.3 1877.0,840.2 1878.5,841.3 1880.0,843.1 1881.5,845.9 1883.0,847.5 1884.5,850.7 1886.0,852.5 1887.5,856.5 1889.0,859.2 1890.5,861.3 1892.0,862.9 1893.5,865.6 1895.0,863.5 1896.5,861.7 1898.0,861.1 1899.5,861.8 1901.0,863.4 1902.5,864.5 1904.0,864.3 1905.5,863.4 1907.0,859.7 1908.5,856.9 1910.0,854.5 1911.5,852.5 1913.0,849.7 1914.5,847.6 1916.0,845.9 1917.5,843.8 1919.0,843.0 1920.5,841.8 1922.0,840.6 1923.5,840.2 1925.0,839.1 1926.5,839.2 1928.0,838.5 1929.5,836.7 1931.0,837.2 1932.5,836.4 1934.0,836.8 1935.5,836.4 1937.0,836.5 1938.5,836.1 1940.0,836.3 1941.5,836.3 1943.0,836.1 1944.5,837.4 1946.0,838.2 1947.5,838.8 1949.0,838.4 1950.5,838.8 1952.0,837.1 1953.5,836.5 1955.0,834.8 1956.5,834.8 1958.0,833.3 1959.5,833.7 1961.0,832.7 1962.5,833.3 1964.0,833.6 1965.5,832.4 1967.0,832.8 1968.5,833.4 1970.0,833.5 1971.5,833.3 1973.0,834.6 1974.5,834.5 1976.0,835.3 1977.5,835.2 1979.0,834.9 1980.5,835.5 1982.0,836.5 1983.5,835.7 1985.0,836.4 1986.5,837.2 1988.0,837.8 1989.5,838.3 1991.0,838.0 1992.5,840.1 1994.0,840.5 1995.5,842.3 1997.0,844.6 1998.5,847.2 2000.0,850.0 2001.5,853.6 2003.0,859.3 2004.5,864.5 2006.0,870.4 2007.5,876.9 2009.0,882.3 2010.5,887.4 2012.0,890.7 2013.5,891.1 2015.0,892.4 2016.5,892.6 2018.0,891.2 2019.5,889.0 2021.0,887.2 2022.5,889.6 2024.0,896.3 2025.5,903.2 2027.0,910.4 2028.5,914.9 2030.0,920.3 2031.5,924.9 2033.0,929.3 2034.5,930.1 2036.0,929.6 2037.5,929.3 2039.0,927.9 2040.5,925.8 2042.0,920.6 2043.5,913.5 2045.0,908.7 2046.5,904.0 2048.0,899.7 2049.5,895.3 2051.0,891.7 2052.5,889.0 2054.0,887.2 2055.5,884.8 2057.0,883.9 2058.5,882.7 2060.0,882.8 2061.5,883.9 2063.0,886.5 2064.5,889.6 2066.0,894.9 2067.5,900.6 2069.0,907.3 2070.5,912.7 2072.0,918.2 2073.5,921.7 2075.0,927.2 2076.5,927.2 2078.0,925.2 2079.5,921.6 2081.0,919.6 2082.5,919.2 2084.0,917.9 2085.5,917.7 2087.0,918.4 2088.5,920.2 2090.0,922.1 2091.5,925.9 2093.0,931.3 2094.5,938.4 2096.0,945.0 2097.5,951.0 2099.0,957.1 2100.5,962.6 2102.0,968.1 2103.5,972.2 2105.0,976.8 2106.5,979.6 2108.0,983.1 2109.5,985.1 2111.0,983.0 2112.5,978.5 2114.0,974.3 2115.5,970.0 2117.0,965.3 2118.5,959.6 2120.0,955.1 2121.5,951.2 2123.0,947.9 2124.5,945.2 2126.0,941.9 2127.5,940.5 2129.0,939.3 2130.5,942.9 2132.0,947.5 2133.5,951.8 2135.0,957.0 2136.5,961.9 2138.0,968.8 2139.5,974.1 2141.0,978.8 2142.5,981.9 2144.0,981.7 2145.5,978.4 2147.0,973.1 2148.5,969.5 2150.0,963.5 2151.5,958.4 2153.0,953.7 2154.5,950.1 2156.0,947.1 2157.5,943.9 2159.0,941.9 2160.5,941.2 2162.0,940.1 2163.5,939.9 2165.0,939.8 2166.5,940.7 2168.0,941.2 2169.5,941.4 2171.0,942.5 2172.5,942.4 2174.0,943.1 2175.5,944.1 2177.0,944.4 2178.5,945.4 2180.0,945.5 2181.5,946.0 2183.0,947.1 2184.5,947.6 2186.0,948.6 2187.5,949.0 2189.0,949.5 2190.5,950.4 2192.0,951.2 2193.5,951.1 2195.0,952.1 2196.5,952.5 2198.0,953.6 2199.5,953.3 2201.0,954.3 2202.5,953.7 2204.0,954.5 2205.5,955.3 2207.0,955.2 2208.5,956.2 2210.0,955.3 2211.5,956.7 2213.0,957.2 2214.5,957.7 2216.0,957.8 2217.5,959.3 2219.0,958.8 2220.5,961.0 2222.0,961.8 2223.5,963.2 2225.0,964.0 2226.5,964.9 2228.0,966.3 2229.5,967.3 2231.0,968.6 2232.5,969.2 2234.0,970.3 2235.5,971.0 2237.0,971.6 2238.5,970.2 2240.0,970.7 2241.5,971.1 2243.0,970.9 2244.5,970.3 2246.0,970.2 2247.5,970.2 2249.0,970.2 2250.5,969.8 2252.0,969.7 2253.5,969.9 2255.0,971.2 2256.5,973.1 2258.0,973.3 2259.5,975.0 2261.0,975.8 2262.5,974.8 2264.0,975.0 2265.5,973.0 2267.0,972.5 2268.5,970.7 2270.0,969.2 2271.5,968.7 2273.0,968.2 2274.5,966.0 2276.0,965.2 2277.5,963.5 2279.0,962.4 2280.5,962.0 2282.0,960.9 2283.5,960.5 2285.0,960.1 2286.5,958.4 2288.0,958.0 2289.5,957.7 2291.0,958.0 2292.5,956.5 2294.0,956.1 2295.5,956.3 2297.0,956.9 2298.5,955.8 2300.0,955.9 2301.5,956.0 2303.0,956.3 2304.5,956.9 2306.0,955.5 2307.5,955.4 2309.0,956.6 2310.5,957.7 2312.0,957.8 2313.5,959.8" fill="none" stroke="#62c93c" stroke-width="7.4" stroke-linejoin="round" stroke-linecap="round"/>
<path d="M1448.0,584.2 1449.5,583.9 1451.0,584.4 1452.5,583.8 1454.0,584.9 1455.5,584.1 1457.0,584.8 1458.5,584.8 1460.0,584.6 1461.5,586.1 1463.0,584.7 1464.5,585.2 1466.0,585.4 1467.5,584.5 1469.0,585.4 1470.5,584.7 1472.0,585.0 1473.5,584.1 1475.0,583.9 1476.5,584.6 1478.0,584.1 1479.5,583.8 1481.0,583.7 1482.5,583.5 1484.0,582.6 1485.5,581.9 1487.0,581.9 1488.5,581.7 1490.0,581.3 1491.5,581.8 1493.0,581.7 1494.5,581.7 1496.0,581.7 1497.5,581.4 1499.0,581.4 1500.5,581.5 1502.0,581.1 1503.5,581.2 1505.0,581.5 1506.5,581.2 1508.0,581.3 1509.5,581.5 1511.0,582.0 1512.5,581.6 1514.0,581.4 1515.5,581.3 1517.0,581.5 1518.5,582.4 1520.0,580.2 1521.5,581.7 1523.0,581.6 1524.5,581.8 1526.0,581.0 1527.5,582.3 1529.0,581.9 1530.5,581.5 1532.0,581.6 1533.5,581.2 1535.0,581.6 1536.5,581.5 1538.0,582.0 1539.5,581.8 1541.0,581.7 1542.5,582.1 1544.0,582.1 1545.5,582.1 1547.0,581.5 1548.5,582.6 1550.0,581.8 1551.5,582.0 1553.0,582.4 1554.5,582.8 1556.0,583.3 1557.5,582.1 1559.0,583.5 1560.5,583.7 1562.0,583.0 1563.5,583.2 1565.0,583.2 1566.5,583.4 1568.0,583.3 1569.5,583.3 1571.0,584.1 1572.5,584.6 1574.0,585.5 1575.5,584.6 1577.0,584.5 1578.5,585.7 1580.0,585.8 1581.5,586.6 1583.0,586.8 1584.5,587.1 1586.0,588.0 1587.5,589.5 1589.0,590.2 1590.5,590.8 1592.0,592.7 1593.5,593.0 1595.0,594.8 1596.5,596.8 1598.0,598.4 1599.5,601.2 1601.0,604.8 1602.5,608.3 1604.0,612.1 1605.5,616.3 1607.0,621.6 1608.5,628.5 1610.0,637.6 1611.5,644.3 1613.0,653.4 1614.5,661.8 1616.0,672.7 1617.5,683.2 1619.0,693.4 1620.5,703.2 1622.0,713.9 1623.5,725.9 1625.0,734.6 1626.5,741.6 1628.0,748.9 1629.5,752.8 1631.0,751.0 1632.5,743.8 1634.0,733.0 1635.5,721.3 1637.0,709.8 1638.5,698.5 1640.0,686.6 1641.5,674.9 1643.0,663.1 1644.5,654.6 1646.0,648.1 1647.5,642.4 1649.0,636.1 1650.5,630.9 1652.0,627.1 1653.5,621.9 1655.0,618.6 1656.5,616.0 1658.0,613.0 1659.5,609.8 1661.0,605.9 1662.5,604.9 1664.0,602.9 1665.5,601.1 1667.0,600.3 1668.5,599.8 1670.0,598.5 1671.5,597.5 1673.0,596.6 1674.5,596.9 1676.0,596.1 1677.5,595.8 1679.0,595.2 1680.5,595.4 1682.0,595.3 1683.5,594.8 1685.0,593.9 1686.5,594.3 1688.0,593.8 1689.5,592.3 1691.0,593.3 1692.5,592.0 1694.0,592.2 1695.5,593.0 1697.0,592.8 1698.5,592.2 1700.0,592.2 1701.5,592.7 1703.0,591.9 1704.5,592.8 1706.0,592.6 1707.5,593.1 1709.0,592.9 1710.5,592.6 1712.0,593.2 1713.5,593.1 1715.0,592.8 1716.5,593.0 1718.0,593.2 1719.5,593.7 1721.0,594.1 1722.5,594.0 1724.0,593.6 1725.5,594.1 1727.0,594.6 1728.5,594.9 1730.0,594.2 1731.5,594.8 1733.0,594.6 1734.5,594.0 1736.0,594.4 1737.5,594.8 1739.0,594.9 1740.5,595.0 1742.0,595.0 1743.5,595.4 1745.0,594.9 1746.5,594.7 1748.0,595.6 1749.5,595.2 1751.0,595.8 1752.5,595.2 1754.0,596.1 1755.5,595.1 1757.0,595.2 1758.5,596.0 1760.0,596.6 1761.5,595.6 1763.0,596.8 1764.5,597.2 1766.0,597.6 1767.5,598.1 1769.0,598.2 1770.5,599.4 1772.0,600.6 1773.5,601.9 1775.0,602.1 1776.5,602.2 1778.0,602.5 1779.5,601.7 1781.0,602.3 1782.5,601.5 1784.0,602.1 1785.5,601.2 1787.0,600.4 1788.5,600.1 1790.0,599.2 1791.5,599.5 1793.0,598.6 1794.5,598.5 1796.0,598.7 1797.5,598.1 1799.0,597.9 1800.5,598.6 1802.0,597.8 1803.5,598.0 1805.0,597.4 1806.5,597.1 1808.0,597.8 1809.5,597.4 1811.0,596.8 1812.5,598.4 1814.0,598.5 1815.5,598.2 1817.0,599.4 1818.5,599.1 1820.0,599.3 1821.5,599.5 1823.0,601.0 1824.5,601.9 1826.0,604.3 1827.5,607.4 1829.0,610.9 1830.5,615.5 1832.0,624.0 1833.5,632.6 1835.0,639.7 1836.5,645.0 1838.0,650.7 1839.5,652.3 1841.0,650.8 1842.5,647.7 1844.0,643.8 1845.5,639.7 1847.0,634.4 1848.5,628.3 1850.0,622.0 1851.5,618.2 1853.0,616.6 1854.5,613.7 1856.0,610.8 1857.5,610.1 1859.0,609.3 1860.5,608.3 1862.0,607.5 1863.5,607.6 1865.0,607.8 1866.5,607.6 1868.0,607.5 1869.5,608.5 1871.0,607.9 1872.5,608.6 1874.0,607.8 1875.5,608.4 1877.0,608.5 1878.5,610.2 1880.0,611.9 1881.5,614.9 1883.0,618.3 1884.5,622.6 1886.0,627.9 1887.5,633.7 1889.0,640.7 1890.5,647.0 1892.0,653.9 1893.5,657.6 1895.0,656.1 1896.5,650.9 1898.0,650.3 1899.5,652.1 1901.0,654.2 1902.5,657.2 1904.0,657.7 1905.5,654.9 1907.0,650.3 1908.5,645.8 1910.0,641.7 1911.5,637.5 1913.0,633.7 1914.5,629.4 1916.0,626.6 1917.5,624.3 1919.0,622.1 1920.5,619.9 1922.0,618.8 1923.5,616.8 1925.0,615.5 1926.5,613.4 1928.0,612.9 1929.5,612.2 1931.0,612.1 1932.5,612.5 1934.0,612.5 1935.5,611.4 1937.0,611.3 1938.5,610.9 1940.0,610.9 1941.5,612.3 1943.0,613.2 1944.5,614.7 1946.0,616.8 1947.5,617.4 1949.0,617.4 1950.5,616.3 1952.0,615.0 1953.5,613.1 1955.0,611.6 1956.5,610.1 1958.0,609.8 1959.5,609.7 1961.0,609.4 1962.5,609.3 1964.0,609.2 1965.5,609.9 1967.0,609.2 1968.5,609.9 1970.0,610.2 1971.5,611.2 1973.0,611.0 1974.5,611.3 1976.0,612.7 1977.5,612.9 1979.0,613.0 1980.5,612.8 1982.0,613.8 1983.5,613.6 1985.0,613.4 1986.5,613.6 1988.0,613.8 1989.5,614.9 1991.0,614.6 1992.5,614.8 1994.0,615.9 1995.5,618.2 1997.0,620.0 1998.5,622.0 2000.0,624.8 2001.5,628.6 2003.0,635.5 2004.5,644.0 2006.0,653.6 2007.5,663.2 2009.0,674.5 2010.5,685.4 2012.0,691.9 2013.5,694.9 2015.0,696.8 2016.5,697.4 2018.0,694.9 2019.5,691.3 2021.0,690.4 2022.5,692.9 2024.0,702.0 2025.5,711.1 2027.0,719.9 2028.5,727.7 2030.0,735.7 2031.5,742.3 2033.0,748.0 2034.5,749.5 2036.0,749.9 2037.5,750.2 2039.0,749.8 2040.5,748.9 2042.0,741.2 2043.5,731.5 2045.0,721.8 2046.5,712.1 2048.0,701.6 2049.5,691.0 2051.0,681.0 2052.5,672.1 2054.0,663.3 2055.5,654.7 2057.0,648.9 2058.5,643.9 2060.0,643.1 2061.5,643.4 2063.0,646.0 2064.5,647.7 2066.0,653.2 2067.5,662.9 2069.0,674.6 2070.5,687.0 2072.0,697.1 2073.5,708.9 2075.0,717.3 2076.5,718.8 2078.0,714.7 2079.5,708.1 2081.0,700.8 2082.5,690.7 2084.0,680.5 2085.5,672.8 2087.0,671.2 2088.5,670.8 2090.0,669.8 2091.5,670.4 2093.0,675.6 2094.5,683.6 2096.0,693.2 2097.5,703.8 2099.0,714.3 2100.5,726.3 2102.0,738.5 2103.5,749.1 2105.0,757.9 2106.5,765.1 2108.0,772.3 2109.5,774.5 2111.0,772.3 2112.5,766.0 2114.0,757.5 2115.5,749.8 2117.0,737.7 2118.5,724.7 2120.0,712.8 2121.5,702.7 2123.0,695.4 2124.5,688.2 2126.0,682.1 2127.5,678.7 2129.0,677.0 2130.5,680.4 2132.0,684.5 2133.5,690.7 2135.0,697.2 2136.5,709.9 2138.0,723.4 2139.5,737.7 2141.0,747.6 2142.5,755.7 2144.0,756.5 2145.5,751.2 2147.0,741.8 2148.5,731.6 2150.0,720.4 2151.5,710.1 2153.0,698.8 2154.5,690.0 2156.0,683.2 2157.5,676.3 2159.0,669.9 2160.5,665.5 2162.0,662.1 2163.5,660.9 2165.0,659.2 2166.5,658.1 2168.0,656.6 2169.5,656.1 2171.0,655.5 2172.5,655.1 2174.0,654.4 2175.5,653.1 2177.0,653.7 2178.5,652.7 2180.0,653.3 2181.5,652.7 2183.0,652.5 2184.5,652.2 2186.0,653.2 2187.5,652.2 2189.0,653.1 2190.5,653.2 2192.0,653.8 2193.5,653.1 2195.0,652.5 2196.5,652.2 2198.0,653.5 2199.5,655.2 2201.0,658.3 2202.5,659.1 2204.0,658.3 2205.5,658.0 2207.0,656.2 2208.5,655.1 2210.0,653.9 2211.5,652.5 2213.0,652.2 2214.5,651.7 2216.0,650.8 2217.5,650.3 2219.0,649.5 2220.5,649.8 2222.0,650.5 2223.5,651.4 2225.0,651.6 2226.5,652.7 2228.0,654.7 2229.5,654.6 2231.0,656.8 2232.5,659.3 2234.0,662.7 2235.5,665.4 2237.0,666.3 2238.5,665.7 2240.0,664.9 2241.5,662.8 2243.0,661.5 2244.5,659.6 2246.0,659.4 2247.5,657.7 2249.0,657.5 2250.5,655.9 2252.0,656.1 2253.5,656.8 2255.0,658.5 2256.5,660.5 2258.0,663.3 2259.5,664.5 2261.0,664.5 2262.5,664.4 2264.0,664.0 2265.5,661.6 2267.0,660.9 2268.5,658.3 2270.0,656.3 2271.5,655.9 2273.0,653.5 2274.5,650.9 2276.0,651.4 2277.5,650.4 2279.0,650.7 2280.5,650.7 2282.0,650.5 2283.5,650.0 2285.0,649.4 2286.5,650.5 2288.0,650.3 2289.5,650.7 2291.0,650.7 2292.5,651.7 2294.0,652.8 2295.5,653.3 2297.0,654.1 2298.5,654.1 2300.0,654.3 2301.5,655.5 2303.0,655.8 2304.5,656.8 2306.0,657.3 2307.5,657.1 2309.0,657.4 2310.5,658.5 2312.0,658.7 2313.5,658.4" fill="none" stroke="#d274dc" stroke-width="7.4" stroke-linejoin="round" stroke-linecap="round"/>
<path d="M1448.0,291.2 1449.5,292.0 1451.0,291.8 1452.5,292.1 1454.0,292.6 1455.5,292.4 1457.0,292.8 1458.5,292.7 1460.0,293.0 1461.5,292.0 1463.0,292.2 1464.5,292.0 1466.0,292.7 1467.5,292.4 1469.0,292.7 1470.5,292.4 1472.0,292.2 1473.5,292.8 1475.0,292.0 1476.5,291.6 1478.0,291.0 1479.5,291.7 1481.0,291.4 1482.5,290.3 1484.0,290.5 1485.5,290.4 1487.0,289.4 1488.5,289.8 1490.0,290.3 1491.5,288.9 1493.0,289.6 1494.5,290.0 1496.0,288.9 1497.5,288.9 1499.0,289.1 1500.5,289.2 1502.0,289.2 1503.5,288.4 1505.0,288.7 1506.5,289.0 1508.0,288.9 1509.5,289.5 1511.0,288.9 1512.5,288.9 1514.0,289.7 1515.5,289.0 1517.0,288.6 1518.5,289.0 1520.0,288.9 1521.5,289.3 1523.0,289.2 1524.5,288.9 1526.0,288.8 1527.5,288.8 1529.0,289.5 1530.5,289.8 1532.0,289.0 1533.5,289.3 1535.0,289.2 1536.5,288.9 1538.0,289.0 1539.5,289.1 1541.0,288.6 1542.5,289.2 1544.0,289.8 1545.5,290.1 1547.0,289.7 1548.5,289.8 1550.0,290.3 1551.5,291.0 1553.0,290.0 1554.5,290.2 1556.0,290.4 1557.5,291.0 1559.0,290.6 1560.5,291.2 1562.0,290.9 1563.5,291.6 1565.0,291.4 1566.5,291.5 1568.0,292.2 1569.5,291.6 1571.0,292.0 1572.5,292.8 1574.0,293.1 1575.5,293.1 1577.0,292.5 1578.5,293.9 1580.0,294.1 1581.5,294.3 1583.0,294.1 1584.5,295.8 1586.0,296.9 1587.5,297.1 1589.0,298.4 1590.5,298.6 1592.0,300.0 1593.5,300.9 1595.0,302.1 1596.5,304.1 1598.0,306.2 1599.5,309.1 1601.0,312.6 1602.5,316.8 1604.0,321.5 1605.5,327.0 1607.0,334.7 1608.5,346.2 1610.0,357.9 1611.5,371.6 1613.0,384.2 1614.5,396.3 1616.0,410.8 1617.5,425.7 1619.0,440.2 1620.5,455.0 1622.0,471.9 1623.5,489.7 1625.0,505.9 1626.5,519.7 1628.0,533.0 1629.5,542.1 1631.0,540.4 1632.5,529.5 1634.0,513.7 1635.5,496.2 1637.0,480.2 1638.5,463.8 1640.0,447.0 1641.5,428.5 1643.0,413.0 1644.5,399.6 1646.0,389.5 1647.5,379.6 1649.0,370.5 1650.5,361.9 1652.0,354.8 1653.5,348.5 1655.0,343.6 1656.5,337.7 1658.0,333.2 1659.5,328.6 1661.0,323.6 1662.5,319.9 1664.0,316.0 1665.5,314.2 1667.0,312.8 1668.5,310.8 1670.0,310.1 1671.5,309.1 1673.0,308.0 1674.5,306.8 1676.0,306.3 1677.5,305.2 1679.0,304.8 1680.5,305.4 1682.0,303.8 1683.5,303.3 1685.0,303.3 1686.5,303.0 1688.0,302.9 1689.5,302.0 1691.0,301.6 1692.5,301.4 1694.0,301.9 1695.5,302.0 1697.0,301.2 1698.5,301.3 1700.0,301.5 1701.5,301.2 1703.0,301.4 1704.5,302.0 1706.0,301.1 1707.5,301.8 1709.0,302.2 1710.5,301.3 1712.0,302.3 1713.5,301.9 1715.0,301.7 1716.5,302.3 1718.0,302.1 1719.5,302.0 1721.0,301.9 1722.5,301.9 1724.0,302.0 1725.5,302.2 1727.0,302.6 1728.5,302.3 1730.0,302.5 1731.5,302.3 1733.0,302.7 1734.5,302.5 1736.0,303.0 1737.5,302.6 1739.0,301.8 1740.5,302.5 1742.0,302.3 1743.5,302.9 1745.0,302.5 1746.5,302.8 1748.0,302.8 1749.5,302.2 1751.0,302.4 1752.5,302.5 1754.0,302.1 1755.5,303.9 1757.0,302.7 1758.5,302.0 1760.0,301.9 1761.5,302.6 1763.0,302.4 1764.5,302.2 1766.0,302.7 1767.5,304.0 1769.0,304.6 1770.5,305.7 1772.0,306.2 1773.5,307.3 1775.0,306.5 1776.5,307.7 1778.0,307.2 1779.5,307.0 1781.0,307.5 1782.5,306.1 1784.0,306.5 1785.5,306.0 1787.0,306.2 1788.5,304.7 1790.0,305.0 1791.5,304.6 1793.0,304.0 1794.5,303.6 1796.0,303.2 1797.5,302.3 1799.0,302.5 1800.5,301.8 1802.0,302.9 1803.5,302.9 1805.0,302.0 1806.5,303.1 1808.0,302.6 1809.5,302.2 1811.0,302.7 1812.5,303.4 1814.0,303.3 1815.5,303.1 1817.0,304.1 1818.5,304.1 1820.0,304.3 1821.5,304.4 1823.0,305.7 1824.5,307.6 1826.0,309.7 1827.5,313.7 1829.0,318.2 1830.5,325.7 1832.0,339.5 1833.5,356.8 1835.0,369.1 1836.5,382.2 1838.0,392.7 1839.5,398.3 1841.0,395.3 1842.5,388.6 1844.0,382.6 1845.5,374.9 1847.0,364.7 1848.5,354.4 1850.0,344.0 1851.5,337.0 1853.0,332.3 1854.5,327.3 1856.0,324.3 1857.5,321.2 1859.0,317.2 1860.5,317.1 1862.0,316.3 1863.5,316.3 1865.0,316.6 1866.5,316.1 1868.0,315.9 1869.5,316.5 1871.0,316.4 1872.5,316.9 1874.0,316.0 1875.5,317.0 1877.0,318.5 1878.5,318.8 1880.0,321.7 1881.5,325.2 1883.0,329.6 1884.5,335.3 1886.0,343.1 1887.5,353.8 1889.0,366.1 1890.5,379.6 1892.0,394.5 1893.5,402.2 1895.0,399.7 1896.5,393.7 1898.0,389.9 1899.5,393.4 1901.0,398.9 1902.5,403.9 1904.0,404.5 1905.5,400.6 1907.0,392.7 1908.5,384.7 1910.0,377.7 1911.5,371.8 1913.0,364.7 1914.5,358.4 1916.0,353.2 1917.5,349.7 1919.0,345.4 1920.5,340.7 1922.0,338.0 1923.5,335.0 1925.0,332.1 1926.5,329.7 1928.0,329.2 1929.5,327.8 1931.0,327.3 1932.5,326.5 1934.0,326.2 1935.5,325.7 1937.0,325.3 1938.5,325.0 1940.0,324.7 1941.5,326.5 1943.0,329.6 1944.5,332.5 1946.0,335.9 1947.5,337.0 1949.0,337.3 1950.5,334.3 1952.0,331.7 1953.5,328.5 1955.0,325.2 1956.5,322.6 1958.0,322.7 1959.5,321.7 1961.0,321.5 1962.5,321.1 1964.0,320.3 1965.5,321.3 1967.0,321.8 1968.5,322.8 1970.0,323.2 1971.5,325.2 1973.0,325.9 1974.5,326.9 1976.0,328.0 1977.5,329.3 1979.0,329.7 1980.5,331.0 1982.0,331.2 1983.5,331.8 1985.0,331.7 1986.5,331.9 1988.0,332.2 1989.5,333.5 1991.0,334.9 1992.5,335.9 1994.0,336.1 1995.5,338.7 1997.0,341.2 1998.5,343.4 2000.0,347.3 2001.5,351.5 2003.0,360.3 2004.5,372.3 2006.0,385.7 2007.5,400.0 2009.0,419.3 2010.5,439.1 2012.0,448.7 2013.5,453.6 2015.0,456.0 2016.5,455.1 2018.0,451.2 2019.5,445.7 2021.0,442.2 2022.5,447.6 2024.0,460.8 2025.5,476.7 2027.0,489.4 2028.5,502.3 2030.0,515.7 2031.5,527.1 2033.0,536.6 2034.5,540.6 2036.0,540.0 2037.5,539.9 2039.0,540.6 2040.5,537.1 2042.0,525.6 2043.5,510.5 2045.0,496.0 2046.5,478.9 2048.0,461.8 2049.5,444.7 2051.0,429.3 2052.5,416.1 2054.0,402.9 2055.5,391.0 2057.0,379.5 2058.5,373.9 2060.0,372.9 2061.5,374.4 2063.0,376.7 2064.5,379.4 2066.0,388.0 2067.5,400.8 2069.0,417.5 2070.5,435.2 2072.0,451.8 2073.5,476.1 2075.0,493.5 2076.5,497.4 2078.0,491.0 2079.5,481.2 2081.0,470.2 2082.5,455.7 2084.0,437.6 2085.5,426.5 2087.0,424.2 2088.5,423.5 2090.0,422.8 2091.5,423.1 2093.0,428.9 2094.5,438.8 2096.0,451.2 2097.5,464.0 2099.0,478.0 2100.5,494.8 2102.0,510.7 2103.5,526.2 2105.0,539.3 2106.5,552.0 2108.0,562.6 2109.5,567.7 2111.0,563.9 2112.5,554.4 2114.0,543.4 2115.5,531.7 2117.0,515.4 2118.5,497.1 2120.0,479.0 2121.5,463.0 2123.0,452.5 2124.5,440.7 2126.0,430.4 2127.5,423.2 2129.0,422.6 2130.5,426.6 2132.0,433.9 2133.5,443.3 2135.0,453.1 2136.5,471.9 2138.0,493.9 2139.5,514.8 2141.0,529.9 2142.5,541.8 2144.0,544.9 2145.5,536.1 2147.0,524.1 2148.5,510.4 2150.0,494.0 2151.5,473.7 2153.0,454.8 2154.5,439.7 2156.0,428.7 2157.5,417.6 2159.0,409.0 2160.5,401.3 2162.0,395.0 2163.5,390.3 2165.0,385.8 2166.5,383.2 2168.0,379.5 2169.5,375.9 2171.0,374.3 2172.5,371.3 2174.0,369.8 2175.5,367.9 2177.0,365.6 2178.5,363.8 2180.0,362.6 2181.5,361.5 2183.0,360.5 2184.5,360.1 2186.0,359.2 2187.5,359.5 2189.0,359.0 2190.5,359.3 2192.0,358.7 2193.5,358.7 2195.0,358.6 2196.5,359.1 2198.0,362.8 2199.5,368.9 2201.0,375.2 2202.5,378.3 2204.0,378.7 2205.5,374.1 2207.0,368.8 2208.5,364.5 2210.0,361.6 2211.5,359.7 2213.0,358.1 2214.5,356.0 2216.0,355.7 2217.5,353.8 2219.0,353.7 2220.5,354.5 2222.0,355.1 2223.5,355.7 2225.0,356.4 2226.5,358.4 2228.0,360.2 2229.5,362.2 2231.0,365.9 2232.5,372.0 2234.0,378.3 2235.5,383.0 2237.0,384.6 2238.5,383.8 2240.0,380.9 2241.5,377.3 2243.0,372.8 2244.5,369.7 2246.0,367.1 2247.5,364.2 2249.0,362.4 2250.5,360.4 2252.0,360.3 2253.5,361.6 2255.0,364.5 2256.5,368.8 2258.0,372.7 2259.5,376.2 2261.0,377.5 2262.5,377.1 2264.0,374.2 2265.5,371.8 2267.0,368.1 2268.5,364.6 2270.0,361.0 2271.5,357.9 2273.0,354.9 2274.5,351.9 2276.0,348.9 2277.5,348.8 2279.0,347.3 2280.5,346.4 2282.0,346.0 2283.5,345.0 2285.0,344.2 2286.5,344.9 2288.0,345.0 2289.5,345.9 2291.0,346.7 2292.5,346.9 2294.0,348.1 2295.5,349.6 2297.0,350.6 2298.5,350.5 2300.0,351.2 2301.5,351.9 2303.0,352.4 2304.5,353.9 2306.0,354.0 2307.5,353.6 2309.0,354.2 2310.5,355.3 2312.0,355.5 2313.5,356.1" fill="none" stroke="#16167c" stroke-width="7.4" stroke-linejoin="round" stroke-linecap="round"/>
<line x1="1446.0" y1="202.0" x2="1446.0" y2="1064.4" stroke="#7c7c81" stroke-width="4.8"/>
<line x1="1443.6" y1="1062.0" x2="2317.0" y2="1062.0" stroke="#7c7c81" stroke-width="4.8"/>
<line x1="1517.5" y1="1055.0" x2="1517.5" y2="1062.0" stroke="#7c7c81" stroke-width="4.2"/>
<line x1="1590.0" y1="1055.0" x2="1590.0" y2="1062.0" stroke="#7c7c81" stroke-width="4.2"/>
<line x1="1662.5" y1="1055.0" x2="1662.5" y2="1062.0" stroke="#7c7c81" stroke-width="4.2"/>
<line x1="1735.0" y1="1055.0" x2="1735.0" y2="1062.0" stroke="#7c7c81" stroke-width="4.2"/>
<line x1="1807.5" y1="1055.0" x2="1807.5" y2="1062.0" stroke="#7c7c81" stroke-width="4.2"/>
<line x1="1880.0" y1="1055.0" x2="1880.0" y2="1062.0" stroke="#7c7c81" stroke-width="4.2"/>
<line x1="1952.5" y1="1055.0" x2="1952.5" y2="1062.0" stroke="#7c7c81" stroke-width="4.2"/>
<line x1="2025.0" y1="1055.0" x2="2025.0" y2="1062.0" stroke="#7c7c81" stroke-width="4.2"/>
<line x1="2097.5" y1="1055.0" x2="2097.5" y2="1062.0" stroke="#7c7c81" stroke-width="4.2"/>
<line x1="2170.0" y1="1055.0" x2="2170.0" y2="1062.0" stroke="#7c7c81" stroke-width="4.2"/>
<line x1="2242.5" y1="1055.0" x2="2242.5" y2="1062.0" stroke="#7c7c81" stroke-width="4.2"/>
<line x1="2315.0" y1="1055.0" x2="2315.0" y2="1062.0" stroke="#7c7c81" stroke-width="4.2"/>
<text x="1664.9" y="185.0" font-size="58" textLength="271.3" lengthAdjust="spacingAndGlyphs">1750 cm<tspan font-size="30" dy="-24">−1</tspan></text>
<text x="1634.4" y="252.5" font-size="58" textLength="332.2" lengthAdjust="spacingAndGlyphs">C=O stretch</text>
<text x="2122.7" y="317.5" font-size="60" textLength="231.6" lengthAdjust="spacingAndGlyphs">10 steps</text>
<text x="2150.5" y="622.5" font-size="60" textLength="196.1" lengthAdjust="spacingAndGlyphs">5 steps</text>
<text x="2155.4" y="917.5" font-size="60" textLength="198.1" lengthAdjust="spacingAndGlyphs">2 steps</text>
<text x="1368.0" y="1127.5" font-size="58" textLength="120.9" lengthAdjust="spacingAndGlyphs">2000</text>
<text x="1523.6" y="1127.5" font-size="58" textLength="117.9" lengthAdjust="spacingAndGlyphs">1800</text>
<text x="1671.6" y="1127.5" font-size="58" textLength="119.9" lengthAdjust="spacingAndGlyphs">1600</text>
<text x="1820.1" y="1127.5" font-size="58" textLength="116.8" lengthAdjust="spacingAndGlyphs">1400</text>
<text x="1966.6" y="1127.5" font-size="58" textLength="115.3" lengthAdjust="spacingAndGlyphs">1200</text>
<text x="2110.6" y="1127.5" font-size="58" textLength="116.3" lengthAdjust="spacingAndGlyphs">1000</text>
<text x="2260.8" y="1127.5" font-size="58" textLength="88.9" lengthAdjust="spacingAndGlyphs">800</text>
<text x="1626.5" y="1225.5" font-size="58" textLength="503.9" lengthAdjust="spacingAndGlyphs">Wavenumber (cm<tspan font-size="30" dy="-24">−1</tspan><tspan dy="24">)</tspan></text>
<text x="1391.0" y="774.6" font-size="60" textLength="325.1" lengthAdjust="spacingAndGlyphs" transform="rotate(-90 1391.0 774.6)">Absorbance</text>
</g>
<g id="b-left">
<line x1="600.0" y1="1502.0" x2="600.0" y2="2393.5" stroke="#a0a0a4" stroke-width="3.5" stroke-dasharray="11.2 8.5"/>
<line x1="770.5" y1="1502.0" x2="770.5" y2="2393.5" stroke="#a0a0a4" stroke-width="3.5" stroke-dasharray="11.2 8.5"/>
<line x1="913.5" y1="1502.0" x2="913.5" y2="2393.5" stroke="#a0a0a4" stroke-width="3.5" stroke-dasharray="11.2 8.5"/>
<line x1="1015.5" y1="1502.0" x2="1015.5" y2="2393.5" stroke="#a0a0a4" stroke-width="3.5" stroke-dasharray="11.2 8.5"/>
<path d="M359.0,2193.2 360.8,2191.6 362.6,2209.9 364.4,2191.8 366.2,2217.3 368.0,2192.8 369.8,2218.6 371.6,2211.9 373.4,2232.5 375.2,2218.0 377.0,2234.4 378.8,2207.2 380.6,2245.1 382.4,2222.2 384.2,2244.7 386.0,2229.2 387.8,2244.9 389.6,2233.0 391.4,2255.0 393.2,2239.3 395.0,2256.5 396.8,2236.6 398.6,2259.0 400.4,2234.8 402.2,2274.9 404.0,2251.4 405.8,2266.9 407.6,2247.9 409.4,2266.3 411.2,2252.4 413.0,2276.3 414.8,2247.5 416.6,2274.4 418.4,2246.6 420.2,2270.6 422.0,2252.4 423.8,2271.3 425.6,2258.5 427.4,2277.4 429.2,2268.7 431.0,2283.1 432.8,2272.7 434.6,2287.0 436.4,2264.1 438.2,2292.6 440.0,2275.4 441.8,2289.5 443.6,2264.8 445.4,2289.6 447.2,2268.8 449.0,2289.1 450.8,2270.0 452.6,2291.3 454.4,2271.9 456.2,2297.0 458.0,2277.4 459.8,2292.0 461.6,2276.8 463.4,2299.2 465.2,2277.5 467.0,2298.1 468.8,2284.2 470.6,2299.5 472.4,2287.5 474.2,2300.3 476.0,2286.6 477.8,2301.9 479.6,2291.7 481.4,2307.0 483.2,2291.2 485.0,2305.0 486.8,2295.4 488.6,2312.6 490.4,2289.5 492.2,2307.3 494.0,2284.7 495.8,2317.3 497.6,2286.5 499.4,2309.5 501.2,2298.1 503.0,2314.1 504.8,2295.5 506.6,2322.1 508.4,2300.6 510.2,2316.4 512.0,2300.8 513.8,2320.4 515.6,2302.7 517.4,2314.6 519.2,2301.7 521.0,2315.1 522.8,2302.2 524.6,2317.1 526.4,2299.1 528.2,2316.8 530.0,2308.1 531.8,2319.7 533.6,2297.7 535.4,2327.0 537.2,2306.3 539.0,2322.1 540.8,2308.7 542.6,2323.5 544.4,2311.0 546.2,2326.6 548.0,2310.3 549.8,2325.2 551.6,2310.9 553.4,2327.3 555.2,2310.4 557.0,2325.7 558.8,2312.3 560.6,2323.2 562.4,2311.4 564.2,2325.3 566.0,2311.5 567.8,2325.4 569.6,2314.7 571.4,2325.2 573.2,2310.7 575.0,2329.5 576.8,2309.9 578.6,2331.6 580.4,2312.6 582.2,2322.9 584.0,2306.7 585.8,2324.6 587.6,2306.7 589.4,2315.1 591.2,2297.0 593.0,2310.7 594.8,2293.7 596.6,2300.4 598.4,2283.1 600.2,2288.2 602.0,2281.2 603.8,2296.1 605.6,2294.0 607.4,2306.4 609.2,2304.7 611.0,2322.9 612.8,2316.4 614.6,2331.0 616.4,2318.5 618.2,2331.2 620.0,2322.1 621.8,2334.7 623.6,2320.7 625.4,2330.8 627.2,2322.1 629.0,2333.2 630.8,2319.4 632.6,2335.4 634.4,2309.7 636.2,2326.8 638.0,2317.8 639.8,2332.9 641.6,2316.2 643.4,2334.4 645.2,2313.6 647.0,2333.1 648.8,2320.8 650.6,2329.2 652.4,2316.9 654.2,2331.8 656.0,2320.5 657.8,2328.0 659.6,2319.5 661.4,2328.5 663.2,2314.4 665.0,2326.5 666.8,2318.1 668.6,2324.3 670.4,2311.2 672.2,2333.7 674.0,2316.6 675.8,2330.4 677.6,2313.1 679.4,2324.5 681.2,2316.7 683.0,2328.1 684.8,2314.3 686.6,2325.8 688.4,2309.7 690.2,2330.6 692.0,2314.3 693.8,2325.9 695.6,2312.0 697.4,2320.7 699.2,2310.8 701.0,2319.3 702.8,2303.0 704.6,2327.3 706.4,2309.3 708.2,2322.7 710.0,2313.7 711.8,2325.3 713.6,2317.1 715.4,2329.5 717.2,2316.3 719.0,2335.4 720.8,2313.4 722.6,2324.8 724.4,2308.1 726.2,2325.2 728.0,2313.7 729.8,2320.9 731.6,2307.3 733.4,2329.8 735.2,2311.2 737.0,2324.1 738.8,2305.2 740.6,2320.4 742.4,2309.6 744.2,2328.4 746.0,2309.7 747.8,2324.3 749.6,2303.0 751.4,2316.7 753.2,2306.6 755.0,2313.5 756.8,2301.0 758.6,2305.6 760.4,2288.5 762.2,2289.0 764.0,2275.0 765.8,2270.2 767.6,2254.6 769.4,2258.8 771.2,2264.7 773.0,2285.3 774.8,2285.7 776.6,2300.8 778.4,2293.5 780.2,2321.8 782.0,2299.9 783.8,2322.4 785.6,2308.3 787.4,2322.5 789.2,2306.4 791.0,2324.4 792.8,2308.3 794.6,2315.4 796.4,2306.4 798.2,2315.2 800.0,2303.6 801.8,2321.3 803.6,2298.3 805.4,2311.5 807.2,2295.1 809.0,2322.4 810.8,2294.9 812.6,2314.3 814.4,2294.6 816.2,2320.4 818.0,2297.9 819.8,2313.6 821.6,2294.7 823.4,2305.7 825.2,2294.2 827.0,2307.2 828.8,2292.8 830.6,2303.8 832.4,2293.1 834.2,2300.4 836.0,2286.6 837.8,2305.0 839.6,2287.9 841.4,2302.2 843.2,2286.9 845.0,2306.9 846.8,2285.6 848.6,2312.0 850.4,2290.6 852.2,2304.9 854.0,2290.1 855.8,2303.3 857.6,2294.2 859.4,2308.5 861.2,2295.9 863.0,2307.6 864.8,2298.1 866.6,2313.3 868.4,2282.7 870.2,2306.2 872.0,2293.4 873.8,2306.9 875.6,2285.5 877.4,2312.4 879.2,2289.3 881.0,2301.2 882.8,2286.3 884.6,2305.8 886.4,2286.2 888.2,2300.7 890.0,2285.7 891.8,2300.0 893.6,2284.1 895.4,2294.1 897.2,2279.1 899.0,2293.2 900.8,2271.8 902.6,2284.4 904.4,2271.3 906.2,2283.7 908.0,2273.6 909.8,2284.9 911.6,2274.8 913.4,2294.0 915.2,2280.3 917.0,2293.7 918.8,2277.8 920.6,2298.4 922.4,2282.9 924.2,2297.1 926.0,2279.1 927.8,2291.4 929.6,2269.9 931.4,2286.6 933.2,2261.9 935.0,2299.0 936.8,2271.7 938.6,2284.2 940.4,2274.0 942.2,2281.9 944.0,2271.6 945.8,2298.7 947.6,2273.2 949.4,2296.6 951.2,2274.7 953.0,2297.9 954.8,2274.0 956.6,2300.5 958.4,2282.4 960.2,2301.7 962.0,2281.9 963.8,2303.1 965.6,2282.4 967.4,2297.4 969.2,2279.1 971.0,2298.2 972.8,2289.6 974.6,2304.7 976.4,2289.1 978.2,2304.8 980.0,2286.0 981.8,2310.5 983.6,2284.2 985.4,2304.5 987.2,2287.8 989.0,2303.5 990.8,2286.5 992.6,2303.1 994.4,2286.9 996.2,2303.6 998.0,2272.7 999.8,2300.5 1001.6,2273.7 1003.4,2302.8 1005.2,2282.1 1007.0,2308.1 1008.8,2280.0 1010.6,2303.5 1012.4,2287.0 1014.2,2300.3 1016.0,2289.6 1017.8,2309.3 1019.6,2283.1 1021.4,2310.5 1023.2,2295.9 1025.0,2306.4 1026.8,2293.9 1028.6,2308.7 1030.4,2291.9 1032.2,2305.7 1034.0,2297.3 1035.8,2307.4 1037.6,2296.7 1039.4,2306.3 1041.2,2291.1 1043.0,2309.9 1044.8,2301.5 1046.6,2310.5 1048.4,2300.7 1050.2,2312.5 1052.0,2301.3 1053.8,2319.5 1055.6,2301.7 1057.4,2312.6 1059.2,2303.3 1061.0,2318.2 1062.8,2301.6 1064.6,2311.3 1066.4,2303.7 1068.2,2320.6 1070.0,2302.4 1071.8,2319.1 1073.6,2305.2 1075.4,2316.8 1077.2,2305.0 1079.0,2326.1 1080.8,2308.6 1082.6,2326.6 1084.4,2296.8 1086.2,2324.2 1088.0,2307.3 1089.8,2316.9 1091.6,2305.3 1093.4,2319.5 1095.2,2306.2 1097.0,2317.5 1098.8,2309.6 1100.6,2326.0 1102.4,2310.2 1104.2,2325.2 1106.0,2310.1 1107.8,2321.3 1109.6,2302.8 1111.4,2324.7 1113.2,2309.3 1115.0,2333.9 1116.8,2314.8 1118.6,2329.8 1120.4,2310.3 1122.2,2328.0 1124.0,2314.0 1125.8,2327.8 1127.6,2311.3 1129.4,2330.7 1131.2,2313.5 1133.0,2322.1 1134.8,2312.4 1136.6,2323.9 1138.4,2313.9 1140.2,2325.7 1142.0,2318.0 1143.8,2328.8 1145.6,2309.1 1147.4,2334.9 1149.2,2315.8 1151.0,2332.1 1152.8,2317.1 1154.6,2330.7 1156.4,2322.5 1158.2,2330.8 1160.0,2321.1 1161.8,2334.0 1163.6,2325.6 1165.4,2332.3 1167.2,2322.7 1169.0,2335.3 1170.8,2323.9 1172.6,2333.5 1174.4,2324.4 1176.2,2338.5 1178.0,2325.5 1179.8,2335.4 1181.6,2325.9 1183.4,2336.0 1185.2,2329.0 1187.0,2340.3 1188.8,2328.1 1190.6,2336.9 1192.4,2325.8 1194.2,2345.0 1196.0,2324.3 1197.8,2345.0 1199.6,2326.3 1201.4,2340.3 1203.2,2332.4 1205.0,2343.9 1206.8,2326.4 1208.6,2340.8 1210.4,2331.6 1212.2,2342.0 1214.0,2333.8 1215.8,2343.7 1217.6,2334.4 1219.4,2341.5 1221.2,2333.7 1223.0,2340.2 1224.8,2329.2 1226.6,2342.9 1228.4,2337.0 1230.2,2343.7 1232.0,2333.5 1233.8,2345.1 1235.6,2336.2" fill="none" stroke="#10109c" stroke-width="2.7" stroke-linejoin="round" stroke-linecap="round"/>
<path d="M359.0,2117.0 360.8,2093.9 362.6,2130.1 364.4,2106.5 366.2,2127.0 368.0,2100.7 369.8,2131.4 371.6,2101.3 373.4,2130.9 375.2,2102.5 377.0,2124.6 378.8,2108.8 380.6,2129.2 382.4,2098.6 384.2,2134.6 386.0,2093.3 387.8,2131.7 389.6,2105.2 391.4,2140.5 393.2,2102.3 395.0,2147.4 396.8,2104.4 398.6,2138.1 400.4,2116.8 402.2,2146.0 404.0,2118.6 405.8,2140.2 407.6,2122.1 409.4,2148.8 411.2,2129.4 413.0,2163.7 414.8,2106.4 416.6,2146.0 418.4,2132.5 420.2,2156.1 422.0,2131.9 423.8,2145.2 425.6,2132.2 427.4,2145.5 429.2,2122.9 431.0,2151.8 432.8,2127.5 434.6,2155.6 436.4,2113.1 438.2,2158.0 440.0,2132.0 441.8,2168.1 443.6,2136.0 445.4,2163.5 447.2,2136.2 449.0,2168.9 450.8,2141.0 452.6,2164.2 454.4,2141.8 456.2,2163.7 458.0,2146.5 459.8,2169.2 461.6,2144.9 463.4,2174.1 465.2,2148.5 467.0,2160.9 468.8,2137.9 470.6,2172.0 472.4,2130.3 474.2,2182.7 476.0,2153.6 477.8,2168.6 479.6,2151.2 481.4,2166.2 483.2,2144.5 485.0,2170.3 486.8,2152.3 488.6,2176.1 490.4,2149.9 492.2,2168.0 494.0,2149.2 495.8,2176.6 497.6,2156.4 499.4,2178.1 501.2,2154.5 503.0,2172.0 504.8,2151.6 506.6,2178.5 508.4,2151.1 510.2,2177.1 512.0,2151.6 513.8,2169.9 515.6,2155.2 517.4,2177.0 519.2,2149.9 521.0,2175.2 522.8,2140.8 524.6,2174.7 526.4,2157.0 528.2,2175.0 530.0,2156.9 531.8,2175.4 533.6,2162.5 535.4,2184.6 537.2,2154.9 539.0,2191.9 540.8,2158.8 542.6,2180.7 544.4,2163.1 546.2,2177.7 548.0,2162.9 549.8,2176.3 551.6,2156.3 553.4,2193.9 555.2,2159.1 557.0,2178.8 558.8,2159.2 560.6,2184.2 562.4,2160.5 564.2,2191.0 566.0,2166.7 567.8,2176.8 569.6,2156.6 571.4,2182.8 573.2,2164.9 575.0,2191.3 576.8,2162.8 578.6,2179.9 580.4,2165.9 582.2,2185.0 584.0,2146.7 585.8,2171.8 587.6,2149.3 589.4,2153.3 591.2,2139.5 593.0,2143.8 594.8,2123.1 596.6,2121.7 598.4,2098.7 600.2,2108.3 602.0,2104.0 603.8,2122.4 605.6,2124.9 607.4,2142.4 609.2,2141.5 611.0,2162.0 612.8,2146.9 614.6,2171.1 616.4,2156.4 618.2,2186.8 620.0,2165.3 621.8,2191.8 623.6,2161.7 625.4,2183.3 627.2,2170.6 629.0,2182.5 630.8,2164.4 632.6,2186.9 634.4,2155.2 636.2,2183.8 638.0,2169.8 639.8,2194.0 641.6,2171.4 643.4,2186.5 645.2,2166.1 647.0,2198.4 648.8,2167.8 650.6,2189.6 652.4,2167.8 654.2,2192.1 656.0,2163.2 657.8,2188.5 659.6,2174.2 661.4,2189.1 663.2,2168.6 665.0,2185.2 666.8,2169.6 668.6,2185.1 670.4,2164.9 672.2,2191.3 674.0,2174.1 675.8,2188.8 677.6,2164.0 679.4,2188.5 681.2,2177.2 683.0,2196.8 684.8,2176.6 686.6,2197.5 688.4,2163.1 690.2,2194.6 692.0,2173.0 693.8,2190.3 695.6,2174.6 697.4,2200.7 699.2,2157.4 701.0,2189.1 702.8,2163.6 704.6,2187.4 706.4,2162.9 708.2,2189.7 710.0,2164.6 711.8,2184.5 713.6,2160.6 715.4,2183.0 717.2,2165.7 719.0,2182.5 720.8,2162.1 722.6,2196.5 724.4,2168.0 726.2,2190.2 728.0,2152.1 729.8,2191.2 731.6,2152.8 733.4,2185.1 735.2,2162.8 737.0,2185.3 738.8,2167.3 740.6,2191.6 742.4,2168.1 744.2,2186.8 746.0,2170.9 747.8,2182.2 749.6,2166.1 751.4,2188.5 753.2,2156.5 755.0,2192.0 756.8,2159.3 758.6,2180.3 760.4,2161.6 762.2,2181.1 764.0,2163.4 765.8,2199.5 767.6,2163.2 769.4,2179.7 771.2,2165.3 773.0,2184.5 774.8,2157.2 776.6,2185.9 778.4,2160.4 780.2,2182.7 782.0,2155.2 783.8,2198.2 785.6,2166.2 787.4,2188.2 789.2,2167.9 791.0,2185.3 792.8,2165.2 794.6,2185.3 796.4,2161.3 798.2,2189.4 800.0,2165.4 801.8,2188.2 803.6,2156.6 805.4,2177.5 807.2,2162.8 809.0,2177.6 810.8,2146.4 812.6,2184.3 814.4,2151.9 816.2,2185.6 818.0,2163.5 819.8,2184.7 821.6,2145.4 823.4,2187.3 825.2,2148.1 827.0,2173.8 828.8,2160.0 830.6,2177.7 832.4,2145.0 834.2,2189.7 836.0,2156.9 837.8,2175.3 839.6,2156.1 841.4,2189.6 843.2,2147.4 845.0,2181.0 846.8,2148.1 848.6,2181.6 850.4,2158.9 852.2,2180.8 854.0,2157.8 855.8,2183.5 857.6,2161.1 859.4,2189.0 861.2,2158.9 863.0,2175.2 864.8,2157.8 866.6,2173.7 868.4,2156.4 870.2,2178.2 872.0,2151.7 873.8,2173.6 875.6,2154.9 877.4,2178.1 879.2,2163.8 881.0,2176.3 882.8,2157.4 884.6,2192.2 886.4,2160.3 888.2,2171.1 890.0,2151.4 891.8,2187.2 893.6,2153.2 895.4,2181.1 897.2,2135.2 899.0,2156.0 900.8,2139.6 902.6,2163.5 904.4,2137.1 906.2,2151.0 908.0,2133.2 909.8,2151.9 911.6,2131.3 913.4,2160.0 915.2,2127.1 917.0,2153.7 918.8,2135.3 920.6,2157.4 922.4,2132.7 924.2,2158.8 926.0,2148.4 927.8,2164.9 929.6,2150.9 931.4,2164.3 933.2,2146.3 935.0,2175.3 936.8,2146.7 938.6,2172.0 940.4,2150.0 942.2,2161.9 944.0,2149.8 945.8,2168.0 947.6,2149.4 949.4,2173.3 951.2,2151.8 953.0,2173.2 954.8,2151.4 956.6,2177.7 958.4,2158.1 960.2,2186.5 962.0,2151.1 963.8,2180.2 965.6,2134.8 967.4,2165.2 969.2,2150.4 971.0,2178.8 972.8,2151.6 974.6,2167.5 976.4,2155.2 978.2,2179.1 980.0,2139.2 981.8,2175.4 983.6,2153.8 985.4,2175.4 987.2,2156.1 989.0,2177.1 990.8,2157.0 992.6,2183.4 994.4,2166.8 996.2,2182.8 998.0,2161.5 999.8,2184.1 1001.6,2154.7 1003.4,2186.4 1005.2,2160.6 1007.0,2187.2 1008.8,2165.6 1010.6,2180.5 1012.4,2161.5 1014.2,2177.2 1016.0,2165.7 1017.8,2180.2 1019.6,2166.1 1021.4,2195.0 1023.2,2156.3 1025.0,2187.0 1026.8,2171.9 1028.6,2185.4 1030.4,2172.5 1032.2,2185.6 1034.0,2160.3 1035.8,2189.9 1037.6,2168.2 1039.4,2192.6 1041.2,2168.3 1043.0,2184.0 1044.8,2168.4 1046.6,2184.6 1048.4,2163.5 1050.2,2192.1 1052.0,2168.7 1053.8,2184.0 1055.6,2161.7 1057.4,2191.8 1059.2,2174.4 1061.0,2192.2 1062.8,2176.2 1064.6,2190.8 1066.4,2171.7 1068.2,2191.9 1070.0,2168.1 1071.8,2192.2 1073.6,2177.7 1075.4,2192.5 1077.2,2175.6 1079.0,2197.6 1080.8,2185.4 1082.6,2212.4 1084.4,2185.1 1086.2,2203.7 1088.0,2179.6 1089.8,2199.5 1091.6,2180.4 1093.4,2196.8 1095.2,2185.8 1097.0,2202.0 1098.8,2182.5 1100.6,2207.0 1102.4,2176.9 1104.2,2210.0 1106.0,2189.6 1107.8,2203.4 1109.6,2186.0 1111.4,2202.4 1113.2,2192.7 1115.0,2212.1 1116.8,2183.9 1118.6,2202.5 1120.4,2185.9 1122.2,2211.3 1124.0,2188.8 1125.8,2208.6 1127.6,2182.2 1129.4,2204.3 1131.2,2190.0 1133.0,2218.2 1134.8,2196.3 1136.6,2209.6 1138.4,2199.0 1140.2,2216.0 1142.0,2188.5 1143.8,2207.7 1145.6,2194.5 1147.4,2212.5 1149.2,2191.7 1151.0,2208.6 1152.8,2199.4 1154.6,2212.2 1156.4,2192.9 1158.2,2213.3 1160.0,2201.1 1161.8,2224.8 1163.6,2203.7 1165.4,2222.4 1167.2,2200.9 1169.0,2212.1 1170.8,2199.6 1172.6,2211.7 1174.4,2191.6 1176.2,2215.7 1178.0,2206.5 1179.8,2216.0 1181.6,2208.1 1183.4,2221.6 1185.2,2208.6 1187.0,2225.9 1188.8,2214.4 1190.6,2228.0 1192.4,2201.1 1194.2,2226.1 1196.0,2207.3 1197.8,2221.7 1199.6,2210.2 1201.4,2221.5 1203.2,2204.1 1205.0,2226.4 1206.8,2207.7 1208.6,2224.3 1210.4,2212.6 1212.2,2225.2 1214.0,2212.1 1215.8,2228.3 1217.6,2213.4 1219.4,2221.8 1221.2,2213.5 1223.0,2233.8 1224.8,2214.2 1226.6,2233.0 1228.4,2205.0 1230.2,2237.5 1232.0,2212.7 1233.8,2224.9 1235.6,2214.8" fill="none" stroke="#ae44f0" stroke-width="2.7" stroke-linejoin="round" stroke-linecap="round"/>
<path d="M359.0,1905.7 360.8,1896.8 362.6,1923.9 364.4,1896.3 366.2,1928.6 368.0,1900.3 369.8,1927.3 371.6,1903.4 373.4,1943.8 375.2,1903.2 377.0,1938.9 378.8,1918.5 380.6,1940.4 382.4,1928.0 384.2,1954.2 386.0,1926.4 387.8,1954.1 389.6,1929.2 391.4,1973.1 393.2,1935.2 395.0,1962.1 396.8,1941.0 398.6,1969.5 400.4,1947.1 402.2,1971.0 404.0,1948.2 405.8,1974.2 407.6,1950.2 409.4,1977.6 411.2,1953.7 413.0,1994.3 414.8,1964.6 416.6,1988.9 418.4,1951.2 420.2,1992.2 422.0,1966.0 423.8,2009.6 425.6,1974.6 427.4,1996.0 429.2,1977.5 431.0,1991.2 432.8,1971.8 434.6,1999.5 436.4,1979.4 438.2,1999.8 440.0,1987.7 441.8,2012.9 443.6,1989.7 445.4,2009.4 447.2,1990.2 449.0,2009.1 450.8,1994.4 452.6,2014.8 454.4,1997.7 456.2,2015.5 458.0,1984.9 459.8,2018.9 461.6,1992.8 463.4,2016.1 465.2,1994.4 467.0,2019.6 468.8,2000.4 470.6,2027.0 472.4,2007.9 474.2,2027.9 476.0,2000.4 477.8,2030.2 479.6,1993.4 481.4,2036.0 483.2,2019.3 485.0,2032.7 486.8,2006.9 488.6,2031.1 490.4,2005.4 492.2,2034.4 494.0,2017.4 495.8,2035.4 497.6,2023.9 499.4,2034.4 501.2,2016.3 503.0,2036.5 504.8,2019.1 506.6,2045.2 508.4,2013.6 510.2,2045.3 512.0,2023.1 513.8,2057.1 515.6,2028.3 517.4,2042.8 519.2,2026.7 521.0,2044.9 522.8,2031.9 524.6,2045.4 526.4,2023.6 528.2,2047.0 530.0,2031.4 531.8,2053.9 533.6,2031.3 535.4,2053.4 537.2,2024.8 539.0,2058.8 540.8,2022.4 542.6,2055.3 544.4,2029.3 546.2,2049.9 548.0,2038.1 549.8,2053.8 551.6,2028.3 553.4,2063.9 555.2,2035.3 557.0,2050.6 558.8,2025.1 560.6,2050.1 562.4,2032.0 564.2,2067.8 566.0,2041.1 567.8,2056.8 569.6,2036.9 571.4,2051.7 573.2,2030.9 575.0,2049.7 576.8,2024.1 578.6,2045.1 580.4,2028.4 582.2,2052.8 584.0,2013.9 585.8,2037.2 587.6,2014.4 589.4,2016.0 591.2,2002.4 593.0,1996.9 594.8,1974.4 596.6,1967.4 598.4,1942.5 600.2,1945.4 602.0,1950.3 603.8,1972.9 605.6,1981.3 607.4,1999.8 609.2,2006.6 611.0,2025.9 612.8,2015.2 614.6,2039.9 616.4,2026.1 618.2,2050.0 620.0,2031.3 621.8,2045.7 623.6,2036.2 625.4,2050.4 627.2,2038.2 629.0,2052.6 630.8,2040.5 632.6,2053.2 634.4,2045.4 636.2,2063.0 638.0,2036.3 639.8,2056.0 641.6,2048.3 643.4,2060.6 645.2,2050.5 647.0,2063.7 648.8,2049.0 650.6,2065.6 652.4,2039.9 654.2,2062.3 656.0,2052.7 657.8,2066.7 659.6,2048.4 661.4,2059.8 663.2,2047.3 665.0,2069.9 666.8,2041.5 668.6,2060.4 670.4,2037.3 672.2,2059.1 674.0,2034.6 675.8,2062.1 677.6,2045.0 679.4,2062.2 681.2,2042.4 683.0,2058.3 684.8,2040.8 686.6,2060.5 688.4,2041.2 690.2,2051.8 692.0,2038.8 693.8,2062.2 695.6,2044.6 697.4,2060.5 699.2,2045.1 701.0,2059.7 702.8,2044.0 704.6,2068.2 706.4,2043.6 708.2,2057.1 710.0,2039.6 711.8,2058.1 713.6,2030.4 715.4,2054.2 717.2,2039.9 719.0,2051.7 720.8,2034.3 722.6,2060.7 724.4,2034.9 726.2,2050.7 728.0,2037.2 729.8,2056.5 731.6,2029.7 733.4,2053.4 735.2,2034.0 737.0,2055.3 738.8,2024.7 740.6,2065.8 742.4,2034.2 744.2,2052.8 746.0,2035.3 747.8,2052.4 749.6,2037.7 751.4,2044.9 753.2,2032.4 755.0,2052.5 756.8,2034.8 758.6,2046.1 760.4,2035.6 762.2,2046.6 764.0,2026.0 765.8,2052.9 767.6,2026.3 769.4,2045.3 771.2,2031.1 773.0,2040.7 774.8,2028.6 776.6,2050.9 778.4,2031.0 780.2,2045.7 782.0,2027.2 783.8,2041.9 785.6,2022.8 787.4,2043.1 789.2,2024.7 791.0,2043.7 792.8,2027.7 794.6,2043.2 796.4,2023.6 798.2,2048.5 800.0,2031.1 801.8,2049.1 803.6,2022.2 805.4,2047.0 807.2,2025.2 809.0,2042.2 810.8,2022.7 812.6,2047.1 814.4,2025.5 816.2,2051.3 818.0,2020.9 819.8,2048.8 821.6,2010.6 823.4,2047.3 825.2,2014.6 827.0,2052.9 828.8,2021.5 830.6,2036.7 832.4,2023.1 834.2,2038.4 836.0,2009.2 837.8,2030.2 839.6,2012.1 841.4,2033.0 843.2,2005.7 845.0,2039.6 846.8,2010.8 848.6,2030.0 850.4,2009.6 852.2,2032.1 854.0,2012.3 855.8,2031.0 857.6,2015.4 859.4,2026.8 861.2,2009.0 863.0,2033.5 864.8,2010.0 866.6,2037.8 868.4,2010.7 870.2,2026.8 872.0,2005.1 873.8,2027.6 875.6,2008.5 877.4,2043.6 879.2,2008.4 881.0,2032.3 882.8,2007.6 884.6,2027.8 886.4,1997.1 888.2,2020.9 890.0,2002.9 891.8,2030.2 893.6,2004.7 895.4,2018.7 897.2,2000.8 899.0,2017.4 900.8,1970.5 902.6,2002.5 904.4,1971.3 906.2,1999.5 908.0,1973.6 909.8,1979.9 911.6,1961.9 913.4,1985.0 915.2,1986.3 917.0,2009.6 918.8,1984.3 920.6,2010.3 922.4,1983.1 924.2,2020.7 926.0,2002.9 927.8,2021.2 929.6,1998.7 931.4,2016.5 933.2,1995.9 935.0,2019.7 936.8,1995.6 938.6,2013.1 940.4,1990.1 942.2,2029.0 944.0,1992.5 945.8,2012.1 947.6,1996.1 949.4,2014.8 951.2,1982.3 953.0,2016.9 954.8,2001.2 956.6,2023.3 958.4,2005.0 960.2,2023.7 962.0,2008.3 963.8,2032.9 965.6,1998.4 967.4,2025.5 969.2,2000.6 971.0,2028.0 972.8,2002.5 974.6,2022.5 976.4,2009.0 978.2,2024.8 980.0,1997.7 981.8,2025.9 983.6,2011.6 985.4,2029.5 987.2,2010.3 989.0,2042.2 990.8,2013.2 992.6,2038.4 994.4,2015.8 996.2,2045.6 998.0,2015.1 999.8,2035.2 1001.6,2010.8 1003.4,2034.4 1005.2,2007.0 1007.0,2027.5 1008.8,1991.9 1010.6,2024.7 1012.4,2007.0 1014.2,2019.5 1016.0,2004.4 1017.8,2022.1 1019.6,1998.5 1021.4,2022.5 1023.2,2006.1 1025.0,2028.5 1026.8,2013.4 1028.6,2038.0 1030.4,2005.6 1032.2,2039.6 1034.0,2016.0 1035.8,2036.7 1037.6,2000.9 1039.4,2034.9 1041.2,2011.9 1043.0,2035.6 1044.8,2014.1 1046.6,2040.0 1048.4,2018.2 1050.2,2042.8 1052.0,2018.4 1053.8,2049.0 1055.6,2026.0 1057.4,2046.8 1059.2,2031.7 1061.0,2046.7 1062.8,2033.1 1064.6,2049.4 1066.4,2031.3 1068.2,2057.4 1070.0,2035.3 1071.8,2050.0 1073.6,2036.2 1075.4,2050.7 1077.2,2033.5 1079.0,2048.4 1080.8,2031.7 1082.6,2057.4 1084.4,2019.9 1086.2,2048.1 1088.0,2037.5 1089.8,2055.8 1091.6,2031.2 1093.4,2052.1 1095.2,2035.8 1097.0,2061.3 1098.8,2032.5 1100.6,2051.6 1102.4,2033.4 1104.2,2061.7 1106.0,2034.1 1107.8,2054.4 1109.6,2029.4 1111.4,2051.7 1113.2,2039.6 1115.0,2056.7 1116.8,2036.5 1118.6,2058.3 1120.4,2045.3 1122.2,2061.1 1124.0,2043.3 1125.8,2059.6 1127.6,2045.9 1129.4,2066.1 1131.2,2046.2 1133.0,2061.2 1134.8,2041.3 1136.6,2067.5 1138.4,2043.2 1140.2,2053.7 1142.0,2040.8 1143.8,2059.9 1145.6,2043.1 1147.4,2056.2 1149.2,2044.2 1151.0,2054.0 1152.8,2046.5 1154.6,2059.7 1156.4,2044.4 1158.2,2067.3 1160.0,2046.8 1161.8,2060.0 1163.6,2042.7 1165.4,2064.8 1167.2,2041.4 1169.0,2064.8 1170.8,2036.7 1172.6,2059.9 1174.4,2044.1 1176.2,2061.3 1178.0,2050.0 1179.8,2066.3 1181.6,2049.9 1183.4,2068.3 1185.2,2054.7 1187.0,2070.2 1188.8,2043.4 1190.6,2067.5 1192.4,2044.3 1194.2,2064.9 1196.0,2052.4 1197.8,2066.6 1199.6,2058.3 1201.4,2070.9 1203.2,2055.6 1205.0,2076.2 1206.8,2061.9 1208.6,2076.8 1210.4,2062.3 1212.2,2071.9 1214.0,2062.3 1215.8,2077.1 1217.6,2062.7 1219.4,2081.0 1221.2,2052.6 1223.0,2074.8 1224.8,2060.9 1226.6,2073.0 1228.4,2054.4 1230.2,2080.9 1232.0,2064.4 1233.8,2078.0 1235.6,2060.8" fill="none" stroke="#3fcc62" stroke-width="2.7" stroke-linejoin="round" stroke-linecap="round"/>
<path d="M359.0,1718.2 360.8,1702.4 362.6,1721.5 364.4,1706.5 366.2,1738.0 368.0,1710.3 369.8,1739.5 371.6,1724.7 373.4,1751.7 375.2,1730.7 377.0,1753.0 378.8,1722.3 380.6,1758.8 382.4,1740.8 384.2,1759.8 386.0,1740.2 387.8,1773.9 389.6,1742.2 391.4,1765.7 393.2,1751.7 395.0,1781.0 396.8,1759.0 398.6,1788.9 400.4,1767.6 402.2,1783.7 404.0,1764.1 405.8,1789.2 407.6,1767.1 409.4,1801.3 411.2,1776.4 413.0,1799.3 414.8,1784.4 416.6,1815.4 418.4,1782.1 420.2,1819.0 422.0,1781.6 423.8,1811.3 425.6,1797.2 427.4,1819.3 429.2,1803.7 431.0,1828.1 432.8,1808.0 434.6,1838.2 436.4,1805.9 438.2,1831.3 440.0,1812.8 441.8,1825.9 443.6,1818.1 445.4,1844.5 447.2,1817.9 449.0,1846.3 450.8,1811.5 452.6,1837.3 454.4,1819.6 456.2,1839.4 458.0,1823.3 459.8,1838.4 461.6,1826.7 463.4,1843.0 465.2,1824.1 467.0,1847.4 468.8,1831.5 470.6,1852.2 472.4,1818.7 474.2,1850.2 476.0,1830.5 477.8,1873.5 479.6,1834.5 481.4,1874.3 483.2,1840.2 485.0,1866.3 486.8,1828.7 488.6,1862.9 490.4,1847.9 492.2,1859.7 494.0,1837.2 495.8,1864.8 497.6,1850.3 499.4,1867.5 501.2,1836.9 503.0,1877.1 504.8,1852.6 506.6,1864.6 508.4,1852.4 510.2,1876.8 512.0,1850.6 513.8,1872.6 515.6,1856.0 517.4,1878.5 519.2,1864.5 521.0,1879.8 522.8,1863.0 524.6,1885.8 526.4,1868.2 528.2,1894.3 530.0,1869.9 531.8,1887.7 533.6,1866.1 535.4,1894.5 537.2,1864.3 539.0,1883.9 540.8,1869.5 542.6,1891.5 544.4,1874.0 546.2,1888.6 548.0,1870.5 549.8,1891.8 551.6,1878.3 553.4,1891.2 555.2,1872.0 557.0,1897.0 558.8,1876.6 560.6,1900.3 562.4,1879.0 564.2,1904.4 566.0,1872.1 567.8,1899.4 569.6,1883.1 571.4,1892.6 573.2,1878.1 575.0,1890.6 576.8,1874.9 578.6,1883.8 580.4,1868.5 582.2,1883.3 584.0,1864.2 585.8,1873.1 587.6,1849.7 589.4,1857.6 591.2,1837.8 593.0,1830.2 594.8,1810.9 596.6,1798.1 598.4,1775.9 600.2,1774.3 602.0,1779.5 603.8,1802.8 605.6,1815.1 607.4,1835.6 609.2,1842.9 611.0,1861.0 612.8,1858.9 614.6,1875.0 616.4,1863.6 618.2,1883.7 620.0,1865.1 621.8,1885.1 623.6,1874.7 625.4,1891.6 627.2,1878.4 629.0,1905.2 630.8,1886.2 632.6,1902.3 634.4,1882.5 636.2,1903.5 638.0,1891.3 639.8,1907.5 641.6,1884.7 643.4,1906.1 645.2,1887.6 647.0,1906.7 648.8,1889.0 650.6,1904.1 652.4,1889.0 654.2,1906.6 656.0,1893.1 657.8,1902.1 659.6,1895.2 661.4,1902.2 663.2,1891.5 665.0,1903.6 666.8,1887.2 668.6,1907.5 670.4,1890.2 672.2,1915.7 674.0,1896.5 675.8,1914.9 677.6,1899.3 679.4,1911.6 681.2,1903.3 683.0,1914.0 684.8,1898.0 686.6,1921.7 688.4,1903.5 690.2,1911.0 692.0,1899.2 693.8,1925.3 695.6,1901.0 697.4,1913.7 699.2,1901.3 701.0,1912.1 702.8,1900.1 704.6,1920.7 706.4,1892.3 708.2,1910.7 710.0,1897.5 711.8,1904.7 713.6,1896.2 715.4,1912.4 717.2,1897.7 719.0,1910.9 720.8,1888.6 722.6,1906.8 724.4,1894.9 726.2,1907.6 728.0,1897.9 729.8,1913.0 731.6,1894.7 733.4,1909.2 735.2,1886.5 737.0,1904.6 738.8,1889.9 740.6,1904.7 742.4,1893.5 744.2,1901.9 746.0,1894.1 747.8,1913.5 749.6,1891.0 751.4,1902.5 753.2,1885.2 755.0,1902.0 756.8,1885.3 758.6,1901.7 760.4,1888.0 762.2,1909.6 764.0,1889.6 765.8,1906.4 767.6,1883.6 769.4,1904.9 771.2,1887.6 773.0,1897.6 774.8,1888.6 776.6,1897.3 778.4,1878.4 780.2,1900.6 782.0,1888.5 783.8,1903.2 785.6,1887.8 787.4,1901.0 789.2,1874.3 791.0,1900.0 792.8,1883.4 794.6,1898.2 796.4,1883.1 798.2,1902.1 800.0,1883.0 801.8,1898.4 803.6,1887.4 805.4,1895.2 807.2,1884.4 809.0,1898.5 810.8,1882.2 812.6,1898.9 814.4,1877.8 816.2,1904.2 818.0,1881.6 819.8,1896.4 821.6,1886.6 823.4,1898.7 825.2,1875.3 827.0,1899.6 828.8,1880.9 830.6,1899.0 832.4,1885.6 834.2,1905.6 836.0,1884.1 837.8,1895.9 839.6,1883.5 841.4,1892.5 843.2,1877.1 845.0,1896.5 846.8,1879.1 848.6,1898.3 850.4,1874.5 852.2,1891.1 854.0,1880.1 855.8,1899.9 857.6,1875.3 859.4,1891.4 861.2,1876.4 863.0,1897.0 864.8,1877.3 866.6,1898.0 868.4,1863.0 870.2,1892.8 872.0,1860.1 873.8,1892.7 875.6,1869.6 877.4,1894.0 879.2,1863.2 881.0,1882.1 882.8,1866.6 884.6,1878.6 886.4,1853.6 888.2,1882.7 890.0,1866.7 891.8,1884.9 893.6,1855.2 895.4,1877.3 897.2,1856.5 899.0,1869.6 900.8,1844.3 902.6,1864.7 904.4,1842.4 906.2,1848.7 908.0,1833.4 909.8,1840.2 911.6,1821.9 913.4,1837.7 915.2,1833.2 917.0,1857.1 918.8,1837.6 920.6,1856.5 922.4,1849.9 924.2,1872.1 926.0,1854.7 927.8,1870.5 929.6,1848.8 931.4,1870.2 933.2,1859.2 935.0,1881.1 936.8,1855.8 938.6,1887.6 940.4,1848.0 942.2,1876.9 944.0,1859.8 945.8,1890.4 947.6,1864.9 949.4,1883.2 951.2,1868.8 953.0,1884.3 954.8,1872.3 956.6,1895.4 958.4,1872.5 960.2,1894.3 962.0,1877.8 963.8,1891.3 965.6,1876.0 967.4,1899.6 969.2,1869.0 971.0,1890.3 972.8,1875.5 974.6,1899.3 976.4,1871.2 978.2,1888.0 980.0,1872.4 981.8,1905.2 983.6,1873.6 985.4,1893.3 987.2,1863.6 989.0,1887.8 990.8,1870.5 992.6,1888.7 994.4,1868.9 996.2,1888.6 998.0,1870.2 999.8,1886.5 1001.6,1863.0 1003.4,1890.1 1005.2,1870.0 1007.0,1890.0 1008.8,1864.7 1010.6,1881.2 1012.4,1857.4 1014.2,1873.2 1016.0,1857.8 1017.8,1872.2 1019.6,1859.3 1021.4,1875.3 1023.2,1856.7 1025.0,1887.1 1026.8,1867.1 1028.6,1886.0 1030.4,1873.0 1032.2,1891.3 1034.0,1879.5 1035.8,1894.9 1037.6,1879.7 1039.4,1902.6 1041.2,1881.4 1043.0,1894.8 1044.8,1881.0 1046.6,1900.7 1048.4,1880.5 1050.2,1898.0 1052.0,1884.2 1053.8,1908.7 1055.6,1892.3 1057.4,1906.3 1059.2,1889.5 1061.0,1905.3 1062.8,1893.3 1064.6,1913.8 1066.4,1887.8 1068.2,1913.0 1070.0,1890.6 1071.8,1905.2 1073.6,1892.9 1075.4,1904.5 1077.2,1887.2 1079.0,1904.0 1080.8,1887.6 1082.6,1908.9 1084.4,1891.0 1086.2,1909.8 1088.0,1893.6 1089.8,1916.9 1091.6,1898.5 1093.4,1922.4 1095.2,1900.2 1097.0,1916.8 1098.8,1896.7 1100.6,1921.2 1102.4,1897.2 1104.2,1917.2 1106.0,1902.0 1107.8,1911.6 1109.6,1898.5 1111.4,1923.0 1113.2,1899.9 1115.0,1926.7 1116.8,1905.9 1118.6,1917.6 1120.4,1907.6 1122.2,1919.5 1124.0,1907.7 1125.8,1920.1 1127.6,1904.7 1129.4,1922.3 1131.2,1907.1 1133.0,1926.4 1134.8,1905.9 1136.6,1926.6 1138.4,1911.5 1140.2,1921.8 1142.0,1911.1 1143.8,1926.5 1145.6,1901.2 1147.4,1931.2 1149.2,1906.5 1151.0,1922.3 1152.8,1910.3 1154.6,1920.8 1156.4,1908.2 1158.2,1921.4 1160.0,1904.0 1161.8,1920.8 1163.6,1915.0 1165.4,1932.3 1167.2,1915.1 1169.0,1926.0 1170.8,1916.5 1172.6,1930.4 1174.4,1910.5 1176.2,1930.2 1178.0,1910.1 1179.8,1923.7 1181.6,1915.9 1183.4,1934.3 1185.2,1914.6 1187.0,1925.7 1188.8,1909.3 1190.6,1925.8 1192.4,1912.5 1194.2,1924.7 1196.0,1910.9 1197.8,1926.5 1199.6,1916.0 1201.4,1928.9 1203.2,1917.3 1205.0,1930.0 1206.8,1917.2 1208.6,1935.7 1210.4,1912.9 1212.2,1926.8 1214.0,1917.0 1215.8,1929.5 1217.6,1917.2 1219.4,1931.0 1221.2,1915.1 1223.0,1935.7 1224.8,1914.4 1226.6,1930.2 1228.4,1920.4 1230.2,1927.5 1232.0,1921.9 1233.8,1934.9 1235.6,1924.5" fill="none" stroke="#6450d7" stroke-width="2.7" stroke-linejoin="round" stroke-linecap="round"/>
<path d="M359.0,1609.9 360.8,1596.0 362.6,1624.7 364.4,1604.1 366.2,1634.9 368.0,1615.4 369.8,1637.6 371.6,1598.5 373.4,1652.9 375.2,1617.9 377.0,1649.1 378.8,1625.2 380.6,1662.6 382.4,1608.1 384.2,1645.2 386.0,1624.0 387.8,1665.4 389.6,1627.3 391.4,1658.9 393.2,1634.5 395.0,1676.4 396.8,1621.5 398.6,1679.6 400.4,1637.0 402.2,1671.0 404.0,1623.8 405.8,1666.4 407.6,1646.5 409.4,1667.1 411.2,1632.1 413.0,1666.1 414.8,1634.7 416.6,1683.9 418.4,1654.5 420.2,1674.3 422.0,1653.7 423.8,1674.9 425.6,1654.5 427.4,1676.2 429.2,1645.6 431.0,1679.2 432.8,1648.7 434.6,1683.5 436.4,1665.4 438.2,1690.5 440.0,1671.5 441.8,1692.7 443.6,1676.2 445.4,1694.9 447.2,1664.9 449.0,1707.2 450.8,1670.6 452.6,1701.7 454.4,1670.2 456.2,1704.9 458.0,1680.0 459.8,1698.1 461.6,1679.0 463.4,1695.3 465.2,1676.9 467.0,1706.2 468.8,1690.1 470.6,1717.4 472.4,1692.6 474.2,1716.9 476.0,1696.1 477.8,1714.9 479.6,1696.6 481.4,1713.9 483.2,1697.3 485.0,1714.9 486.8,1688.2 488.6,1722.9 490.4,1700.6 492.2,1722.3 494.0,1706.0 495.8,1726.2 497.6,1710.4 499.4,1722.6 501.2,1698.8 503.0,1724.0 504.8,1709.0 506.6,1726.9 508.4,1711.7 510.2,1731.9 512.0,1713.5 513.8,1729.5 515.6,1709.9 517.4,1739.5 519.2,1711.9 521.0,1737.9 522.8,1717.9 524.6,1738.1 526.4,1716.8 528.2,1738.0 530.0,1719.5 531.8,1738.5 533.6,1723.5 535.4,1734.2 537.2,1723.1 539.0,1744.7 540.8,1719.3 542.6,1737.5 544.4,1712.1 546.2,1740.9 548.0,1722.7 549.8,1734.7 551.6,1723.9 553.4,1745.1 555.2,1727.9 557.0,1738.2 558.8,1727.0 560.6,1740.7 562.4,1718.8 564.2,1739.1 566.0,1725.7 567.8,1738.9 569.6,1724.8 571.4,1734.2 573.2,1724.0 575.0,1738.6 576.8,1714.5 578.6,1728.3 580.4,1713.1 582.2,1728.3 584.0,1695.8 585.8,1704.8 587.6,1691.8 589.4,1687.0 591.2,1671.4 593.0,1662.2 594.8,1645.9 596.6,1636.7 598.4,1615.7 600.2,1618.6 602.0,1617.3 603.8,1638.8 605.6,1645.5 607.4,1667.3 609.2,1674.1 611.0,1694.7 612.8,1690.4 614.6,1708.5 616.4,1704.1 618.2,1719.2 620.0,1710.0 621.8,1726.9 623.6,1717.6 625.4,1735.4 627.2,1714.5 629.0,1736.5 630.8,1719.9 632.6,1739.6 634.4,1723.1 636.2,1744.7 638.0,1722.7 639.8,1741.8 641.6,1726.4 643.4,1750.6 645.2,1724.9 647.0,1741.0 648.8,1723.6 650.6,1735.9 652.4,1722.0 654.2,1734.6 656.0,1717.7 657.8,1745.0 659.6,1713.2 661.4,1735.7 663.2,1703.5 665.0,1729.9 666.8,1703.9 668.6,1732.5 670.4,1713.3 672.2,1739.1 674.0,1715.1 675.8,1730.0 677.6,1716.4 679.4,1733.0 681.2,1706.1 683.0,1731.9 684.8,1708.2 686.6,1738.1 688.4,1707.4 690.2,1738.0 692.0,1699.8 693.8,1723.5 695.6,1697.6 697.4,1723.5 699.2,1699.7 701.0,1730.9 702.8,1695.0 704.6,1730.8 706.4,1704.8 708.2,1724.3 710.0,1702.0 711.8,1728.2 713.6,1704.7 715.4,1722.3 717.2,1697.1 719.0,1724.7 720.8,1694.2 722.6,1720.7 724.4,1699.9 726.2,1711.3 728.0,1695.8 729.8,1710.9 731.6,1700.2 733.4,1719.6 735.2,1685.6 737.0,1710.8 738.8,1692.8 740.6,1727.8 742.4,1696.0 744.2,1711.3 746.0,1699.2 747.8,1711.9 749.6,1696.4 751.4,1715.3 753.2,1692.4 755.0,1710.2 756.8,1687.0 758.6,1714.3 760.4,1688.8 762.2,1720.7 764.0,1691.9 765.8,1706.9 767.6,1684.9 769.4,1707.1 771.2,1686.5 773.0,1707.6 774.8,1679.9 776.6,1704.9 778.4,1676.6 780.2,1707.7 782.0,1685.2 783.8,1707.4 785.6,1682.2 787.4,1702.5 789.2,1689.5 791.0,1717.0 792.8,1672.1 794.6,1706.3 796.4,1683.9 798.2,1696.4 800.0,1672.7 801.8,1705.9 803.6,1676.4 805.4,1701.1 807.2,1686.1 809.0,1716.9 810.8,1684.4 812.6,1702.0 814.4,1684.1 816.2,1700.1 818.0,1681.8 819.8,1694.7 821.6,1679.9 823.4,1692.0 825.2,1673.7 827.0,1691.1 828.8,1664.6 830.6,1694.9 832.4,1667.1 834.2,1689.3 836.0,1668.7 837.8,1694.3 839.6,1670.7 841.4,1703.3 843.2,1680.4 845.0,1711.7 846.8,1671.4 848.6,1700.8 850.4,1661.6 852.2,1697.6 854.0,1678.3 855.8,1703.0 857.6,1663.2 859.4,1694.7 861.2,1661.0 863.0,1707.2 864.8,1670.3 866.6,1687.6 868.4,1663.1 870.2,1685.5 872.0,1664.6 873.8,1683.3 875.6,1657.2 877.4,1695.2 879.2,1670.9 881.0,1695.4 882.8,1669.0 884.6,1702.9 886.4,1655.4 888.2,1683.0 890.0,1662.2 891.8,1678.8 893.6,1659.0 895.4,1671.9 897.2,1653.5 899.0,1675.8 900.8,1646.4 902.6,1648.9 904.4,1629.8 906.2,1624.8 908.0,1601.8 909.8,1598.8 911.6,1604.4 913.4,1631.4 915.2,1628.0 917.0,1663.5 918.8,1633.3 920.6,1654.1 922.4,1630.7 924.2,1660.2 926.0,1638.6 927.8,1653.0 929.6,1626.3 931.4,1639.0 933.2,1612.9 935.0,1628.4 936.8,1610.6 938.6,1629.3 940.4,1609.9 942.2,1625.0 944.0,1618.3 945.8,1637.6 947.6,1631.3 949.4,1649.9 951.2,1648.4 953.0,1670.0 954.8,1653.5 956.6,1693.1 958.4,1671.3 960.2,1692.8 962.0,1666.7 963.8,1694.7 965.6,1669.9 967.4,1705.3 969.2,1682.6 971.0,1700.4 972.8,1684.7 974.6,1706.1 976.4,1668.0 978.2,1709.7 980.0,1690.5 981.8,1705.6 983.6,1689.8 985.4,1707.5 987.2,1684.6 989.0,1715.5 990.8,1690.9 992.6,1702.6 994.4,1690.2 996.2,1708.4 998.0,1695.3 999.8,1711.1 1001.6,1677.5 1003.4,1708.2 1005.2,1692.2 1007.0,1719.3 1008.8,1686.9 1010.6,1715.0 1012.4,1681.8 1014.2,1698.8 1016.0,1683.0 1017.8,1699.6 1019.6,1681.6 1021.4,1714.0 1023.2,1676.5 1025.0,1702.6 1026.8,1684.2 1028.6,1707.6 1030.4,1690.1 1032.2,1709.8 1034.0,1678.9 1035.8,1713.3 1037.6,1691.9 1039.4,1712.6 1041.2,1695.0 1043.0,1707.4 1044.8,1696.2 1046.6,1711.0 1048.4,1700.4 1050.2,1712.0 1052.0,1701.9 1053.8,1716.2 1055.6,1700.6 1057.4,1721.9 1059.2,1702.4 1061.0,1721.0 1062.8,1704.4 1064.6,1722.4 1066.4,1712.2 1068.2,1731.9 1070.0,1713.8 1071.8,1743.4 1073.6,1712.3 1075.4,1730.2 1077.2,1705.6 1079.0,1737.5 1080.8,1709.2 1082.6,1737.6 1084.4,1709.8 1086.2,1725.8 1088.0,1710.5 1089.8,1728.0 1091.6,1712.6 1093.4,1738.7 1095.2,1704.7 1097.0,1738.8 1098.8,1705.8 1100.6,1739.4 1102.4,1715.7 1104.2,1730.2 1106.0,1719.3 1107.8,1733.8 1109.6,1712.6 1111.4,1732.7 1113.2,1721.3 1115.0,1740.1 1116.8,1711.4 1118.6,1736.6 1120.4,1722.5 1122.2,1740.6 1124.0,1714.6 1125.8,1737.2 1127.6,1719.2 1129.4,1738.4 1131.2,1725.3 1133.0,1738.4 1134.8,1728.2 1136.6,1746.7 1138.4,1731.7 1140.2,1755.1 1142.0,1729.3 1143.8,1745.3 1145.6,1734.3 1147.4,1743.5 1149.2,1729.6 1151.0,1758.2 1152.8,1731.8 1154.6,1743.1 1156.4,1727.8 1158.2,1750.4 1160.0,1726.4 1161.8,1747.9 1163.6,1723.2 1165.4,1752.3 1167.2,1735.9 1169.0,1747.8 1170.8,1723.7 1172.6,1749.9 1174.4,1735.5 1176.2,1748.4 1178.0,1732.4 1179.8,1746.8 1181.6,1728.7 1183.4,1746.0 1185.2,1725.0 1187.0,1749.6 1188.8,1740.1 1190.6,1759.2 1192.4,1735.7 1194.2,1755.9 1196.0,1741.7 1197.8,1754.7 1199.6,1740.0 1201.4,1754.5 1203.2,1737.6 1205.0,1756.6 1206.8,1730.1 1208.6,1750.8 1210.4,1740.1 1212.2,1751.5 1214.0,1732.4 1215.8,1753.8 1217.6,1737.7 1219.4,1753.2 1221.2,1743.4 1223.0,1758.0 1224.8,1745.3 1226.6,1762.6 1228.4,1747.2 1230.2,1766.3 1232.0,1745.6 1233.8,1760.9 1235.6,1742.0" fill="none" stroke="#4ecbbd" stroke-width="2.7" stroke-linejoin="round" stroke-linecap="round"/>
<line x1="359.0" y1="1492.0" x2="359.0" y2="2395.9" stroke="#7c7c81" stroke-width="4.8"/>
<line x1="356.6" y1="2393.5" x2="1238.5" y2="2393.5" stroke="#7c7c81" stroke-width="4.8"/>
<line x1="535.0" y1="2383.5" x2="535.0" y2="2393.5" stroke="#7c7c81" stroke-width="4.2"/>
<line x1="711.0" y1="2383.5" x2="711.0" y2="2393.5" stroke="#7c7c81" stroke-width="4.2"/>
<line x1="886.0" y1="2383.5" x2="886.0" y2="2393.5" stroke="#7c7c81" stroke-width="4.2"/>
<line x1="1061.0" y1="2383.5" x2="1061.0" y2="2393.5" stroke="#7c7c81" stroke-width="4.2"/>
<line x1="1236.5" y1="2383.5" x2="1236.5" y2="2393.5" stroke="#7c7c81" stroke-width="4.2"/>
<text x="556.8" y="1477.5" font-size="58" textLength="89.4" lengthAdjust="spacingAndGlyphs">12°</text>
<text x="729.3" y="1477.5" font-size="58" textLength="89.4" lengthAdjust="spacingAndGlyphs">17°</text>
<text x="871.8" y="1477.5" font-size="58" textLength="91.4" lengthAdjust="spacingAndGlyphs">21°</text>
<text x="991.8" y="1477.5" font-size="58" textLength="92.5" lengthAdjust="spacingAndGlyphs">24°</text>
<text x="1035.3" y="1662.5" font-size="60" textLength="274.3" lengthAdjust="spacingAndGlyphs">L-D LbL-5</text>
<text x="1035.4" y="1856.0" font-size="60" textLength="271.8" lengthAdjust="spacingAndGlyphs">L-D LbL-4</text>
<text x="1035.3" y="1998.5" font-size="60" textLength="274.3" lengthAdjust="spacingAndGlyphs">L-D LbL-3</text>
<text x="1035.3" y="2147.5" font-size="60" textLength="274.3" lengthAdjust="spacingAndGlyphs">L-D LbL-2</text>
<text x="1035.4" y="2278.5" font-size="60" textLength="266.7" lengthAdjust="spacingAndGlyphs">L-D LbL-1</text>
<text x="345.7" y="2462.0" font-size="58" textLength="32.0" lengthAdjust="spacingAndGlyphs">5</text>
<text x="498.5" y="2462.0" font-size="58" textLength="62.0" lengthAdjust="spacingAndGlyphs">10</text>
<text x="677.0" y="2462.0" font-size="58" textLength="62.5" lengthAdjust="spacingAndGlyphs">15</text>
<text x="851.0" y="2462.0" font-size="58" textLength="64.5" lengthAdjust="spacingAndGlyphs">20</text>
<text x="1023.5" y="2462.0" font-size="58" textLength="64.5" lengthAdjust="spacingAndGlyphs">25</text>
<text x="1194.5" y="2462.0" font-size="58" textLength="66.0" lengthAdjust="spacingAndGlyphs">30</text>
<text x="647.8" y="2561.0" font-size="58" textLength="281.4" lengthAdjust="spacingAndGlyphs">2<tspan style='font-family:"Liberation Serif", serif' font-style="italic">θ</tspan> degrees</text>
<text x="305.0" y="2033.8" font-size="60" textLength="228.6" lengthAdjust="spacingAndGlyphs" transform="rotate(-90 305.0 2033.8)">Intensity</text>
</g>
<g id="b-right">
<line x1="1696.0" y1="1502.0" x2="1696.0" y2="2393.0" stroke="#a0a0a4" stroke-width="3.5" stroke-dasharray="11.2 8.5"/>
<line x1="1864.0" y1="1502.0" x2="1864.0" y2="2393.0" stroke="#a0a0a4" stroke-width="3.5" stroke-dasharray="11.2 8.5"/>
<line x1="1999.0" y1="1502.0" x2="1999.0" y2="2393.0" stroke="#a0a0a4" stroke-width="3.5" stroke-dasharray="11.2 8.5"/>
<line x1="2112.5" y1="1502.0" x2="2112.5" y2="2393.0" stroke="#a0a0a4" stroke-width="3.5" stroke-dasharray="11.2 8.5"/>
<path d="M1451.0,2177.1 1452.8,2164.7 1454.6,2185.5 1456.4,2174.0 1458.2,2199.4 1460.0,2181.4 1461.8,2213.9 1463.6,2176.4 1465.4,2218.3 1467.2,2200.6 1469.0,2220.5 1470.8,2207.7 1472.6,2233.7 1474.4,2203.7 1476.2,2241.4 1478.0,2216.5 1479.8,2256.6 1481.6,2229.3 1483.4,2251.2 1485.2,2226.5 1487.0,2267.4 1488.8,2221.8 1490.6,2272.8 1492.4,2238.5 1494.2,2258.2 1496.0,2245.4 1497.8,2268.4 1499.6,2251.2 1501.4,2278.6 1503.2,2256.1 1505.0,2275.1 1506.8,2255.4 1508.6,2282.8 1510.4,2262.0 1512.2,2278.0 1514.0,2261.2 1515.8,2274.9 1517.6,2255.3 1519.4,2286.8 1521.2,2261.4 1523.0,2281.5 1524.8,2271.4 1526.6,2289.3 1528.4,2262.5 1530.2,2290.3 1532.0,2274.7 1533.8,2296.9 1535.6,2271.6 1537.4,2304.1 1539.2,2278.7 1541.0,2297.3 1542.8,2281.4 1544.6,2304.6 1546.4,2271.6 1548.2,2304.9 1550.0,2265.7 1551.8,2294.5 1553.6,2280.7 1555.4,2294.6 1557.2,2280.1 1559.0,2307.4 1560.8,2281.2 1562.6,2299.0 1564.4,2273.1 1566.2,2300.4 1568.0,2289.1 1569.8,2302.4 1571.6,2283.7 1573.4,2306.0 1575.2,2283.4 1577.0,2306.9 1578.8,2292.3 1580.6,2309.3 1582.4,2276.0 1584.2,2308.0 1586.0,2281.6 1587.8,2304.7 1589.6,2290.6 1591.4,2312.3 1593.2,2285.5 1595.0,2308.4 1596.8,2281.8 1598.6,2310.0 1600.4,2289.0 1602.2,2306.9 1604.0,2296.1 1605.8,2308.7 1607.6,2293.8 1609.4,2310.2 1611.2,2281.3 1613.0,2308.6 1614.8,2294.1 1616.6,2305.9 1618.4,2294.7 1620.2,2314.9 1622.0,2292.7 1623.8,2317.2 1625.6,2283.0 1627.4,2318.9 1629.2,2300.8 1631.0,2318.8 1632.8,2291.3 1634.6,2312.4 1636.4,2292.5 1638.2,2313.8 1640.0,2298.7 1641.8,2324.8 1643.6,2295.7 1645.4,2316.2 1647.2,2298.8 1649.0,2310.2 1650.8,2296.7 1652.6,2314.0 1654.4,2292.9 1656.2,2310.2 1658.0,2288.3 1659.8,2307.0 1661.6,2280.3 1663.4,2308.0 1665.2,2294.4 1667.0,2307.4 1668.8,2291.1 1670.6,2301.7 1672.4,2286.0 1674.2,2297.4 1676.0,2282.0 1677.8,2287.1 1679.6,2268.7 1681.4,2265.4 1683.2,2244.9 1685.0,2229.3 1686.8,2206.2 1688.6,2186.5 1690.4,2160.3 1692.2,2155.8 1694.0,2162.6 1695.8,2188.9 1697.6,2210.1 1699.4,2233.2 1701.2,2247.3 1703.0,2266.7 1704.8,2277.4 1706.6,2293.0 1708.4,2285.9 1710.2,2308.3 1712.0,2290.5 1713.8,2304.2 1715.6,2284.3 1717.4,2314.7 1719.2,2296.9 1721.0,2308.7 1722.8,2297.2 1724.6,2306.8 1726.4,2290.7 1728.2,2315.1 1730.0,2298.5 1731.8,2320.4 1733.6,2296.6 1735.4,2312.7 1737.2,2302.3 1739.0,2318.3 1740.8,2294.4 1742.6,2320.2 1744.4,2295.4 1746.2,2312.3 1748.0,2299.2 1749.8,2318.2 1751.6,2306.2 1753.4,2315.0 1755.2,2303.6 1757.0,2320.2 1758.8,2307.1 1760.6,2317.7 1762.4,2302.1 1764.2,2314.6 1766.0,2301.3 1767.8,2316.5 1769.6,2295.5 1771.4,2311.6 1773.2,2296.4 1775.0,2312.7 1776.8,2284.4 1778.6,2313.2 1780.4,2291.9 1782.2,2313.3 1784.0,2294.0 1785.8,2309.0 1787.6,2298.8 1789.4,2319.2 1791.2,2292.6 1793.0,2307.5 1794.8,2290.4 1796.6,2306.8 1798.4,2282.6 1800.2,2313.6 1802.0,2289.1 1803.8,2305.1 1805.6,2281.6 1807.4,2305.4 1809.2,2289.6 1811.0,2317.7 1812.8,2294.7 1814.6,2307.1 1816.4,2287.0 1818.2,2316.2 1820.0,2286.0 1821.8,2306.5 1823.6,2286.3 1825.4,2304.2 1827.2,2287.5 1829.0,2302.6 1830.8,2281.8 1832.6,2302.4 1834.4,2285.1 1836.2,2295.4 1838.0,2280.6 1839.8,2301.4 1841.6,2283.8 1843.4,2303.9 1845.2,2279.6 1847.0,2306.9 1848.8,2278.7 1850.6,2303.8 1852.4,2279.7 1854.2,2308.1 1856.0,2281.6 1857.8,2298.8 1859.6,2270.6 1861.4,2295.1 1863.2,2271.2 1865.0,2298.6 1866.8,2277.7 1868.6,2295.4 1870.4,2278.0 1872.2,2307.6 1874.0,2276.3 1875.8,2289.3 1877.6,2272.0 1879.4,2297.4 1881.2,2271.5 1883.0,2296.7 1884.8,2280.9 1886.6,2296.7 1888.4,2274.4 1890.2,2300.7 1892.0,2273.8 1893.8,2295.0 1895.6,2275.5 1897.4,2288.7 1899.2,2266.2 1901.0,2287.1 1902.8,2268.5 1904.6,2286.7 1906.4,2270.3 1908.2,2295.9 1910.0,2263.3 1911.8,2289.6 1913.6,2271.8 1915.4,2285.5 1917.2,2256.0 1919.0,2288.6 1920.8,2265.7 1922.6,2281.5 1924.4,2255.3 1926.2,2293.5 1928.0,2262.8 1929.8,2286.6 1931.6,2256.1 1933.4,2277.6 1935.2,2260.0 1937.0,2283.3 1938.8,2253.0 1940.6,2287.8 1942.4,2244.3 1944.2,2288.1 1946.0,2256.3 1947.8,2276.7 1949.6,2248.6 1951.4,2274.6 1953.2,2241.0 1955.0,2278.7 1956.8,2253.5 1958.6,2279.9 1960.4,2258.2 1962.2,2279.3 1964.0,2233.6 1965.8,2265.7 1967.6,2249.5 1969.4,2264.4 1971.2,2236.6 1973.0,2272.1 1974.8,2241.9 1976.6,2259.3 1978.4,2228.4 1980.2,2257.8 1982.0,2229.3 1983.8,2263.2 1985.6,2226.6 1987.4,2252.1 1989.2,2215.3 1991.0,2259.0 1992.8,2225.5 1994.6,2236.4 1996.4,2217.4 1998.2,2217.4 2000.0,2199.5 2001.8,2215.5 2003.6,2197.6 2005.4,2226.6 2007.2,2217.9 2009.0,2238.5 2010.8,2221.4 2012.6,2260.4 2014.4,2221.0 2016.2,2262.4 2018.0,2223.3 2019.8,2261.4 2021.6,2236.7 2023.4,2263.2 2025.2,2220.9 2027.0,2262.0 2028.8,2236.2 2030.6,2256.6 2032.4,2240.8 2034.2,2272.6 2036.0,2237.0 2037.8,2268.7 2039.6,2233.3 2041.4,2270.2 2043.2,2244.7 2045.0,2261.0 2046.8,2241.4 2048.6,2273.3 2050.4,2247.4 2052.2,2269.9 2054.0,2245.2 2055.8,2275.4 2057.6,2244.7 2059.4,2278.1 2061.2,2246.5 2063.0,2277.4 2064.8,2248.9 2066.6,2281.9 2068.4,2252.4 2070.2,2282.2 2072.0,2255.2 2073.8,2288.8 2075.6,2238.5 2077.4,2291.1 2079.2,2259.2 2081.0,2277.8 2082.8,2242.9 2084.6,2276.1 2086.4,2239.0 2088.2,2267.0 2090.0,2253.6 2091.8,2265.0 2093.6,2244.4 2095.4,2260.8 2097.2,2227.8 2099.0,2263.6 2100.8,2239.7 2102.6,2255.3 2104.4,2237.0 2106.2,2253.7 2108.0,2219.5 2109.8,2240.6 2111.6,2225.7 2113.4,2232.5 2115.2,2227.3 2117.0,2246.8 2118.8,2236.0 2120.6,2263.6 2122.4,2231.9 2124.2,2270.2 2126.0,2253.2 2127.8,2272.8 2129.6,2244.9 2131.4,2272.4 2133.2,2249.1 2135.0,2279.1 2136.8,2256.7 2138.6,2282.7 2140.4,2258.3 2142.2,2282.3 2144.0,2255.8 2145.8,2281.1 2147.6,2266.8 2149.4,2279.4 2151.2,2269.2 2153.0,2288.9 2154.8,2260.5 2156.6,2284.3 2158.4,2256.2 2160.2,2287.5 2162.0,2265.7 2163.8,2293.9 2165.6,2260.1 2167.4,2291.4 2169.2,2256.2 2171.0,2282.1 2172.8,2266.8 2174.6,2291.9 2176.4,2263.5 2178.2,2280.2 2180.0,2267.4 2181.8,2287.2 2183.6,2250.9 2185.4,2282.8 2187.2,2260.1 2189.0,2283.6 2190.8,2261.5 2192.6,2296.9 2194.4,2269.1 2196.2,2292.2 2198.0,2271.7 2199.8,2281.0 2201.6,2267.8 2203.4,2293.3 2205.2,2259.3 2207.0,2292.8 2208.8,2267.9 2210.6,2292.0 2212.4,2270.0 2214.2,2289.1 2216.0,2273.0 2217.8,2291.6 2219.6,2270.8 2221.4,2287.3 2223.2,2273.2 2225.0,2292.7 2226.8,2276.8 2228.6,2293.8 2230.4,2269.6 2232.2,2293.5 2234.0,2279.1 2235.8,2290.6 2237.6,2275.2 2239.4,2294.8 2241.2,2281.8 2243.0,2302.3 2244.8,2277.0 2246.6,2310.5 2248.4,2280.6 2250.2,2296.8 2252.0,2279.3 2253.8,2300.5 2255.6,2281.2 2257.4,2300.2 2259.2,2287.8 2261.0,2311.9 2262.8,2280.4 2264.6,2311.8 2266.4,2289.3 2268.2,2311.7 2270.0,2292.2 2271.8,2305.2 2273.6,2296.0 2275.4,2314.9 2277.2,2290.1 2279.0,2315.9 2280.8,2298.4 2282.6,2309.4 2284.4,2296.5 2286.2,2307.5 2288.0,2288.7 2289.8,2322.7 2291.6,2298.1 2293.4,2308.7 2295.2,2300.7 2297.0,2311.7 2298.8,2289.6 2300.6,2313.3 2302.4,2303.1 2304.2,2321.6 2306.0,2298.5 2307.8,2314.9 2309.6,2302.9 2311.4,2316.4 2313.2,2302.1 2315.0,2322.3 2316.8,2299.3 2318.6,2325.2 2320.4,2307.5 2322.2,2319.0 2324.0,2305.6 2325.8,2325.7 2327.6,2304.7 2329.4,2332.4" fill="none" stroke="#10109c" stroke-width="2.7" stroke-linejoin="round" stroke-linecap="round"/>
<path d="M1451.0,1995.9 1452.8,1978.5 1454.6,2005.0 1456.4,1992.3 1458.2,2017.8 1460.0,1994.1 1461.8,2033.7 1463.6,1989.2 1465.4,2026.3 1467.2,2005.6 1469.0,2038.4 1470.8,1999.4 1472.6,2056.1 1474.4,2021.3 1476.2,2048.9 1478.0,2030.4 1479.8,2064.4 1481.6,2033.0 1483.4,2053.2 1485.2,2031.4 1487.0,2063.0 1488.8,2037.2 1490.6,2066.6 1492.4,2046.0 1494.2,2065.9 1496.0,2048.7 1497.8,2074.9 1499.6,2046.4 1501.4,2084.3 1503.2,2052.4 1505.0,2097.8 1506.8,2049.0 1508.6,2100.5 1510.4,2047.9 1512.2,2083.0 1514.0,2048.8 1515.8,2084.0 1517.6,2064.2 1519.4,2103.0 1521.2,2067.6 1523.0,2098.7 1524.8,2072.6 1526.6,2094.6 1528.4,2082.8 1530.2,2113.8 1532.0,2078.3 1533.8,2114.6 1535.6,2078.0 1537.4,2101.5 1539.2,2086.3 1541.0,2101.7 1542.8,2080.3 1544.6,2104.9 1546.4,2090.9 1548.2,2115.3 1550.0,2088.8 1551.8,2119.0 1553.6,2082.0 1555.4,2113.4 1557.2,2093.7 1559.0,2131.7 1560.8,2093.1 1562.6,2126.3 1564.4,2089.0 1566.2,2116.0 1568.0,2085.4 1569.8,2125.0 1571.6,2098.1 1573.4,2120.3 1575.2,2091.7 1577.0,2116.4 1578.8,2090.4 1580.6,2117.2 1582.4,2096.2 1584.2,2111.8 1586.0,2091.7 1587.8,2121.8 1589.6,2087.7 1591.4,2126.0 1593.2,2099.1 1595.0,2117.2 1596.8,2094.6 1598.6,2119.1 1600.4,2105.5 1602.2,2132.5 1604.0,2097.2 1605.8,2122.2 1607.6,2093.0 1609.4,2119.7 1611.2,2104.0 1613.0,2119.9 1614.8,2092.4 1616.6,2119.7 1618.4,2105.5 1620.2,2129.7 1622.0,2105.0 1623.8,2129.3 1625.6,2109.9 1627.4,2129.9 1629.2,2107.3 1631.0,2132.7 1632.8,2102.9 1634.6,2129.2 1636.4,2103.5 1638.2,2124.4 1640.0,2099.2 1641.8,2130.7 1643.6,2105.4 1645.4,2118.3 1647.2,2089.0 1649.0,2136.3 1650.8,2106.8 1652.6,2122.0 1654.4,2109.8 1656.2,2124.7 1658.0,2107.4 1659.8,2141.5 1661.6,2094.5 1663.4,2124.0 1665.2,2108.0 1667.0,2117.9 1668.8,2104.5 1670.6,2126.1 1672.4,2083.9 1674.2,2104.8 1676.0,2082.1 1677.8,2091.3 1679.6,2076.1 1681.4,2069.6 1683.2,2044.6 1685.0,2025.1 1686.8,1997.2 1688.6,1984.8 1690.4,1958.8 1692.2,1949.1 1694.0,1941.1 1695.8,1964.1 1697.6,1992.2 1699.4,2024.9 1701.2,2043.1 1703.0,2071.1 1704.8,2085.3 1706.6,2102.6 1708.4,2092.4 1710.2,2115.4 1712.0,2085.8 1713.8,2121.9 1715.6,2101.2 1717.4,2128.7 1719.2,2108.7 1721.0,2128.5 1722.8,2110.0 1724.6,2129.9 1726.4,2109.7 1728.2,2130.5 1730.0,2102.7 1731.8,2134.5 1733.6,2112.3 1735.4,2127.8 1737.2,2100.2 1739.0,2128.3 1740.8,2109.8 1742.6,2142.3 1744.4,2112.3 1746.2,2129.3 1748.0,2102.8 1749.8,2125.9 1751.6,2115.6 1753.4,2126.9 1755.2,2101.2 1757.0,2128.0 1758.8,2111.6 1760.6,2138.6 1762.4,2103.9 1764.2,2123.3 1766.0,2104.5 1767.8,2130.9 1769.6,2105.4 1771.4,2122.4 1773.2,2109.2 1775.0,2129.6 1776.8,2102.1 1778.6,2126.1 1780.4,2110.8 1782.2,2122.9 1784.0,2108.5 1785.8,2137.6 1787.6,2104.3 1789.4,2121.7 1791.2,2109.6 1793.0,2121.0 1794.8,2097.8 1796.6,2120.8 1798.4,2105.9 1800.2,2124.3 1802.0,2101.0 1803.8,2119.2 1805.6,2102.9 1807.4,2123.7 1809.2,2091.5 1811.0,2119.8 1812.8,2095.0 1814.6,2129.2 1816.4,2100.1 1818.2,2130.4 1820.0,2095.4 1821.8,2122.7 1823.6,2096.2 1825.4,2124.0 1827.2,2099.3 1829.0,2111.3 1830.8,2097.3 1832.6,2119.7 1834.4,2099.9 1836.2,2116.5 1838.0,2103.2 1839.8,2121.7 1841.6,2096.0 1843.4,2116.7 1845.2,2097.0 1847.0,2131.0 1848.8,2104.1 1850.6,2126.2 1852.4,2096.9 1854.2,2120.4 1856.0,2101.5 1857.8,2130.8 1859.6,2095.9 1861.4,2119.9 1863.2,2100.2 1865.0,2121.4 1866.8,2099.6 1868.6,2125.3 1870.4,2093.9 1872.2,2124.7 1874.0,2100.1 1875.8,2121.9 1877.6,2094.4 1879.4,2119.6 1881.2,2090.6 1883.0,2109.5 1884.8,2086.2 1886.6,2108.8 1888.4,2078.4 1890.2,2114.8 1892.0,2089.0 1893.8,2114.7 1895.6,2093.9 1897.4,2110.5 1899.2,2087.3 1901.0,2124.7 1902.8,2075.7 1904.6,2112.0 1906.4,2091.8 1908.2,2114.8 1910.0,2068.2 1911.8,2102.4 1913.6,2076.1 1915.4,2106.3 1917.2,2072.2 1919.0,2103.0 1920.8,2071.0 1922.6,2104.6 1924.4,2063.3 1926.2,2098.8 1928.0,2081.0 1929.8,2105.5 1931.6,2081.2 1933.4,2100.8 1935.2,2089.3 1937.0,2105.7 1938.8,2076.9 1940.6,2107.3 1942.4,2085.7 1944.2,2099.3 1946.0,2078.3 1947.8,2098.9 1949.6,2081.7 1951.4,2110.9 1953.2,2083.9 1955.0,2105.6 1956.8,2078.4 1958.6,2093.8 1960.4,2058.2 1962.2,2105.9 1964.0,2070.2 1965.8,2090.9 1967.6,2067.8 1969.4,2096.9 1971.2,2072.3 1973.0,2101.4 1974.8,2065.8 1976.6,2087.9 1978.4,2066.5 1980.2,2085.7 1982.0,2061.6 1983.8,2081.7 1985.6,2058.4 1987.4,2068.1 1989.2,2045.4 1991.0,2055.8 1992.8,2031.6 1994.6,2035.2 1996.4,2020.8 1998.2,2027.3 2000.0,2005.1 2001.8,2013.3 2003.6,2018.1 2005.4,2036.6 2007.2,2030.6 2009.0,2072.0 2010.8,2038.9 2012.6,2071.0 2014.4,2051.4 2016.2,2068.8 2018.0,2048.0 2019.8,2085.4 2021.6,2053.5 2023.4,2092.9 2025.2,2057.8 2027.0,2081.3 2028.8,2040.5 2030.6,2074.8 2032.4,2057.6 2034.2,2082.1 2036.0,2062.2 2037.8,2090.2 2039.6,2050.5 2041.4,2101.7 2043.2,2065.1 2045.0,2083.8 2046.8,2051.2 2048.6,2088.6 2050.4,2060.8 2052.2,2101.8 2054.0,2070.7 2055.8,2097.4 2057.6,2069.9 2059.4,2099.5 2061.2,2078.3 2063.0,2101.3 2064.8,2066.3 2066.6,2094.0 2068.4,2077.1 2070.2,2098.6 2072.0,2068.1 2073.8,2111.8 2075.6,2079.4 2077.4,2098.0 2079.2,2067.2 2081.0,2099.4 2082.8,2080.2 2084.6,2105.7 2086.4,2083.7 2088.2,2102.6 2090.0,2066.4 2091.8,2112.5 2093.6,2064.8 2095.4,2095.1 2097.2,2068.8 2099.0,2111.6 2100.8,2060.8 2102.6,2095.4 2104.4,2058.4 2106.2,2088.0 2108.0,2055.9 2109.8,2084.3 2111.6,2050.7 2113.4,2073.7 2115.2,2059.8 2117.0,2074.4 2118.8,2068.0 2120.6,2086.5 2122.4,2071.3 2124.2,2094.8 2126.0,2058.8 2127.8,2099.9 2129.6,2087.9 2131.4,2118.2 2133.2,2086.5 2135.0,2102.9 2136.8,2088.4 2138.6,2103.9 2140.4,2092.9 2142.2,2109.7 2144.0,2089.4 2145.8,2120.4 2147.6,2093.9 2149.4,2113.1 2151.2,2084.9 2153.0,2115.7 2154.8,2091.5 2156.6,2114.1 2158.4,2077.7 2160.2,2109.1 2162.0,2076.2 2163.8,2111.5 2165.6,2089.9 2167.4,2125.7 2169.2,2098.5 2171.0,2116.6 2172.8,2094.1 2174.6,2122.8 2176.4,2098.3 2178.2,2120.6 2180.0,2093.0 2181.8,2118.6 2183.6,2093.9 2185.4,2129.2 2187.2,2107.2 2189.0,2129.3 2190.8,2104.7 2192.6,2124.1 2194.4,2102.7 2196.2,2127.6 2198.0,2102.2 2199.8,2128.5 2201.6,2105.5 2203.4,2124.3 2205.2,2109.7 2207.0,2132.5 2208.8,2112.2 2210.6,2140.4 2212.4,2114.2 2214.2,2125.9 2216.0,2107.3 2217.8,2135.2 2219.6,2110.2 2221.4,2128.9 2223.2,2110.2 2225.0,2138.2 2226.8,2116.5 2228.6,2131.0 2230.4,2101.9 2232.2,2137.8 2234.0,2121.2 2235.8,2140.7 2237.6,2112.1 2239.4,2139.1 2241.2,2123.6 2243.0,2148.1 2244.8,2123.2 2246.6,2146.6 2248.4,2127.6 2250.2,2155.6 2252.0,2126.4 2253.8,2146.7 2255.6,2125.3 2257.4,2139.9 2259.2,2124.2 2261.0,2153.4 2262.8,2120.7 2264.6,2145.2 2266.4,2124.8 2268.2,2141.6 2270.0,2124.8 2271.8,2145.0 2273.6,2128.5 2275.4,2147.0 2277.2,2129.4 2279.0,2149.7 2280.8,2138.4 2282.6,2160.9 2284.4,2140.3 2286.2,2161.1 2288.0,2140.4 2289.8,2154.2 2291.6,2140.1 2293.4,2159.2 2295.2,2135.4 2297.0,2157.1 2298.8,2133.7 2300.6,2159.1 2302.4,2140.1 2304.2,2164.8 2306.0,2132.0 2307.8,2156.1 2309.6,2132.3 2311.4,2153.3 2313.2,2139.4 2315.0,2164.6 2316.8,2137.5 2318.6,2164.4 2320.4,2147.9 2322.2,2164.6 2324.0,2146.6 2325.8,2165.6 2327.6,2148.9 2329.4,2170.7" fill="none" stroke="#ae44f2" stroke-width="2.7" stroke-linejoin="round" stroke-linecap="round"/>
<path d="M1451.0,1795.5 1452.8,1779.7 1454.6,1817.7 1456.4,1794.4 1458.2,1815.9 1460.0,1805.1 1461.8,1820.2 1463.6,1791.8 1465.4,1828.4 1467.2,1813.9 1469.0,1835.7 1470.8,1817.8 1472.6,1840.9 1474.4,1818.3 1476.2,1868.6 1478.0,1814.1 1479.8,1865.2 1481.6,1836.0 1483.4,1874.0 1485.2,1848.8 1487.0,1885.6 1488.8,1850.7 1490.6,1894.2 1492.4,1859.6 1494.2,1882.3 1496.0,1863.1 1497.8,1891.1 1499.6,1867.1 1501.4,1890.8 1503.2,1866.6 1505.0,1898.1 1506.8,1862.9 1508.6,1902.8 1510.4,1874.0 1512.2,1895.9 1514.0,1872.2 1515.8,1897.5 1517.6,1878.4 1519.4,1903.7 1521.2,1884.1 1523.0,1899.6 1524.8,1880.7 1526.6,1905.3 1528.4,1891.1 1530.2,1918.8 1532.0,1896.8 1533.8,1916.3 1535.6,1901.2 1537.4,1917.1 1539.2,1891.0 1541.0,1918.4 1542.8,1890.8 1544.6,1911.8 1546.4,1899.1 1548.2,1916.1 1550.0,1899.9 1551.8,1917.8 1553.6,1901.4 1555.4,1927.6 1557.2,1902.8 1559.0,1924.0 1560.8,1904.5 1562.6,1920.9 1564.4,1891.8 1566.2,1922.5 1568.0,1902.0 1569.8,1924.9 1571.6,1908.6 1573.4,1924.2 1575.2,1900.1 1577.0,1927.0 1578.8,1893.6 1580.6,1916.3 1582.4,1903.7 1584.2,1918.8 1586.0,1898.0 1587.8,1920.3 1589.6,1911.0 1591.4,1921.9 1593.2,1906.6 1595.0,1927.3 1596.8,1910.8 1598.6,1933.0 1600.4,1905.8 1602.2,1937.0 1604.0,1905.3 1605.8,1930.9 1607.6,1905.4 1609.4,1924.2 1611.2,1907.5 1613.0,1926.1 1614.8,1904.0 1616.6,1929.2 1618.4,1912.2 1620.2,1925.1 1622.0,1914.5 1623.8,1928.4 1625.6,1912.1 1627.4,1939.1 1629.2,1909.8 1631.0,1924.3 1632.8,1915.5 1634.6,1924.0 1636.4,1912.9 1638.2,1926.6 1640.0,1903.2 1641.8,1925.6 1643.6,1909.6 1645.4,1927.7 1647.2,1908.1 1649.0,1923.3 1650.8,1907.1 1652.6,1926.1 1654.4,1905.8 1656.2,1922.7 1658.0,1908.7 1659.8,1930.3 1661.6,1907.6 1663.4,1935.3 1665.2,1905.8 1667.0,1931.0 1668.8,1905.4 1670.6,1933.9 1672.4,1900.6 1674.2,1919.9 1676.0,1892.1 1677.8,1906.3 1679.6,1886.0 1681.4,1884.2 1683.2,1866.2 1685.0,1859.1 1686.8,1838.7 1688.6,1825.4 1690.4,1798.9 1692.2,1788.2 1694.0,1779.2 1695.8,1801.3 1697.6,1824.1 1699.4,1851.9 1701.2,1862.2 1703.0,1881.7 1704.8,1887.4 1706.6,1909.4 1708.4,1884.6 1710.2,1915.2 1712.0,1887.1 1713.8,1914.5 1715.6,1897.6 1717.4,1917.1 1719.2,1905.6 1721.0,1927.1 1722.8,1899.1 1724.6,1931.9 1726.4,1900.8 1728.2,1929.0 1730.0,1912.3 1731.8,1925.6 1733.6,1913.9 1735.4,1935.2 1737.2,1910.5 1739.0,1929.9 1740.8,1917.7 1742.6,1926.6 1744.4,1913.1 1746.2,1935.7 1748.0,1916.6 1749.8,1927.1 1751.6,1914.7 1753.4,1941.2 1755.2,1907.3 1757.0,1933.0 1758.8,1916.5 1760.6,1929.1 1762.4,1914.9 1764.2,1930.9 1766.0,1900.6 1767.8,1922.2 1769.6,1909.3 1771.4,1925.7 1773.2,1897.8 1775.0,1919.5 1776.8,1909.9 1778.6,1920.6 1780.4,1908.8 1782.2,1923.5 1784.0,1897.1 1785.8,1917.6 1787.6,1902.2 1789.4,1914.3 1791.2,1889.2 1793.0,1918.5 1794.8,1894.7 1796.6,1915.5 1798.4,1888.8 1800.2,1918.7 1802.0,1890.0 1803.8,1910.0 1805.6,1889.6 1807.4,1910.1 1809.2,1888.9 1811.0,1907.2 1812.8,1893.6 1814.6,1913.2 1816.4,1890.1 1818.2,1906.7 1820.0,1891.4 1821.8,1904.4 1823.6,1886.4 1825.4,1902.3 1827.2,1891.3 1829.0,1902.5 1830.8,1885.9 1832.6,1903.2 1834.4,1886.5 1836.2,1898.8 1838.0,1886.9 1839.8,1905.9 1841.6,1888.5 1843.4,1907.8 1845.2,1884.7 1847.0,1914.8 1848.8,1890.4 1850.6,1899.9 1852.4,1885.4 1854.2,1902.1 1856.0,1889.0 1857.8,1900.9 1859.6,1882.1 1861.4,1899.6 1863.2,1875.6 1865.0,1904.6 1866.8,1875.3 1868.6,1904.8 1870.4,1888.6 1872.2,1900.5 1874.0,1884.2 1875.8,1898.3 1877.6,1877.6 1879.4,1898.6 1881.2,1883.3 1883.0,1897.0 1884.8,1879.4 1886.6,1909.6 1888.4,1871.1 1890.2,1907.5 1892.0,1881.3 1893.8,1906.8 1895.6,1873.2 1897.4,1910.3 1899.2,1872.2 1901.0,1890.9 1902.8,1856.8 1904.6,1907.2 1906.4,1867.1 1908.2,1890.2 1910.0,1870.1 1911.8,1888.3 1913.6,1871.6 1915.4,1898.6 1917.2,1872.4 1919.0,1902.9 1920.8,1868.9 1922.6,1896.7 1924.4,1871.0 1926.2,1888.9 1928.0,1873.5 1929.8,1889.3 1931.6,1870.7 1933.4,1888.3 1935.2,1866.9 1937.0,1892.0 1938.8,1863.2 1940.6,1884.6 1942.4,1849.6 1944.2,1894.6 1946.0,1846.9 1947.8,1880.5 1949.6,1861.7 1951.4,1883.3 1953.2,1853.5 1955.0,1881.0 1956.8,1858.7 1958.6,1879.3 1960.4,1853.9 1962.2,1890.6 1964.0,1859.6 1965.8,1881.0 1967.6,1858.7 1969.4,1883.2 1971.2,1833.9 1973.0,1876.0 1974.8,1841.4 1976.6,1888.6 1978.4,1848.1 1980.2,1868.0 1982.0,1840.2 1983.8,1869.3 1985.6,1818.6 1987.4,1862.0 1989.2,1831.7 1991.0,1843.2 1992.8,1826.5 1994.6,1830.3 1996.4,1809.2 1998.2,1812.2 2000.0,1799.6 2001.8,1801.2 2003.6,1800.8 2005.4,1822.3 2007.2,1822.6 2009.0,1853.7 2010.8,1823.0 2012.6,1855.7 2014.4,1825.0 2016.2,1873.6 2018.0,1834.2 2019.8,1871.6 2021.6,1839.5 2023.4,1872.1 2025.2,1843.7 2027.0,1864.7 2028.8,1846.8 2030.6,1868.4 2032.4,1849.1 2034.2,1871.0 2036.0,1837.4 2037.8,1870.6 2039.6,1839.3 2041.4,1892.7 2043.2,1845.8 2045.0,1877.7 2046.8,1847.3 2048.6,1873.8 2050.4,1850.3 2052.2,1873.5 2054.0,1848.3 2055.8,1882.5 2057.6,1851.5 2059.4,1887.1 2061.2,1857.0 2063.0,1890.9 2064.8,1843.6 2066.6,1882.1 2068.4,1859.9 2070.2,1883.1 2072.0,1861.6 2073.8,1880.4 2075.6,1867.4 2077.4,1880.1 2079.2,1842.9 2081.0,1885.0 2082.8,1863.2 2084.6,1887.5 2086.4,1863.8 2088.2,1879.8 2090.0,1849.5 2091.8,1885.9 2093.6,1853.5 2095.4,1891.1 2097.2,1847.9 2099.0,1872.9 2100.8,1850.5 2102.6,1870.6 2104.4,1844.6 2106.2,1881.9 2108.0,1831.9 2109.8,1863.2 2111.6,1834.2 2113.4,1866.1 2115.2,1841.7 2117.0,1853.2 2118.8,1839.2 2120.6,1857.9 2122.4,1847.9 2124.2,1881.7 2126.0,1853.8 2127.8,1878.6 2129.6,1853.9 2131.4,1877.9 2133.2,1866.2 2135.0,1883.3 2136.8,1863.6 2138.6,1889.5 2140.4,1865.9 2142.2,1894.4 2144.0,1873.5 2145.8,1889.4 2147.6,1860.5 2149.4,1893.7 2151.2,1864.2 2153.0,1912.6 2154.8,1868.3 2156.6,1904.4 2158.4,1878.3 2160.2,1900.0 2162.0,1867.9 2163.8,1903.9 2165.6,1878.7 2167.4,1905.4 2169.2,1883.9 2171.0,1897.1 2172.8,1867.0 2174.6,1901.8 2176.4,1881.3 2178.2,1912.4 2180.0,1881.8 2181.8,1906.6 2183.6,1881.9 2185.4,1902.3 2187.2,1885.5 2189.0,1898.2 2190.8,1886.0 2192.6,1912.2 2194.4,1871.1 2196.2,1901.5 2198.0,1886.2 2199.8,1903.3 2201.6,1881.4 2203.4,1910.3 2205.2,1893.0 2207.0,1906.5 2208.8,1891.5 2210.6,1907.3 2212.4,1897.2 2214.2,1913.3 2216.0,1891.1 2217.8,1908.7 2219.6,1897.9 2221.4,1916.5 2223.2,1901.8 2225.0,1925.4 2226.8,1882.9 2228.6,1911.6 2230.4,1888.1 2232.2,1914.1 2234.0,1901.6 2235.8,1920.1 2237.6,1902.0 2239.4,1917.6 2241.2,1895.0 2243.0,1917.4 2244.8,1902.6 2246.6,1932.6 2248.4,1890.9 2250.2,1915.3 2252.0,1904.0 2253.8,1919.6 2255.6,1898.2 2257.4,1921.2 2259.2,1899.9 2261.0,1921.0 2262.8,1901.6 2264.6,1918.0 2266.4,1907.5 2268.2,1920.8 2270.0,1906.3 2271.8,1922.0 2273.6,1905.5 2275.4,1920.8 2277.2,1903.7 2279.0,1931.4 2280.8,1910.7 2282.6,1937.4 2284.4,1912.3 2286.2,1933.9 2288.0,1908.0 2289.8,1927.2 2291.6,1911.1 2293.4,1925.7 2295.2,1907.8 2297.0,1926.6 2298.8,1909.9 2300.6,1926.8 2302.4,1909.6 2304.2,1927.8 2306.0,1909.5 2307.8,1930.0 2309.6,1914.9 2311.4,1928.3 2313.2,1914.8 2315.0,1938.6 2316.8,1913.0 2318.6,1936.3 2320.4,1916.9 2322.2,1926.7 2324.0,1916.1 2325.8,1930.6 2327.6,1904.5 2329.4,1930.1" fill="none" stroke="#3fd062" stroke-width="2.7" stroke-linejoin="round" stroke-linecap="round"/>
<path d="M1451.0,1628.8 1452.8,1617.0 1454.6,1647.5 1456.4,1624.8 1458.2,1645.6 1460.0,1625.0 1461.8,1653.1 1463.6,1634.4 1465.4,1662.6 1467.2,1646.8 1469.0,1672.5 1470.8,1653.5 1472.6,1679.6 1474.4,1660.2 1476.2,1679.7 1478.0,1653.5 1479.8,1699.3 1481.6,1665.5 1483.4,1700.9 1485.2,1679.8 1487.0,1694.0 1488.8,1675.7 1490.6,1698.6 1492.4,1680.8 1494.2,1705.3 1496.0,1686.4 1497.8,1712.2 1499.6,1694.6 1501.4,1713.4 1503.2,1691.5 1505.0,1717.7 1506.8,1698.8 1508.6,1711.5 1510.4,1692.5 1512.2,1718.8 1514.0,1704.4 1515.8,1722.8 1517.6,1706.9 1519.4,1721.2 1521.2,1707.3 1523.0,1719.2 1524.8,1707.8 1526.6,1725.0 1528.4,1709.1 1530.2,1730.1 1532.0,1711.5 1533.8,1721.1 1535.6,1711.6 1537.4,1729.3 1539.2,1704.6 1541.0,1729.5 1542.8,1711.5 1544.6,1721.7 1546.4,1711.5 1548.2,1729.5 1550.0,1710.7 1551.8,1726.6 1553.6,1716.9 1555.4,1729.7 1557.2,1714.5 1559.0,1734.8 1560.8,1708.1 1562.6,1739.7 1564.4,1718.6 1566.2,1734.1 1568.0,1718.8 1569.8,1730.7 1571.6,1718.7 1573.4,1737.4 1575.2,1720.9 1577.0,1729.1 1578.8,1711.2 1580.6,1728.8 1582.4,1716.0 1584.2,1728.2 1586.0,1718.9 1587.8,1731.9 1589.6,1707.6 1591.4,1732.4 1593.2,1711.0 1595.0,1731.8 1596.8,1720.5 1598.6,1731.7 1600.4,1720.8 1602.2,1736.7 1604.0,1721.4 1605.8,1734.0 1607.6,1726.5 1609.4,1735.0 1611.2,1726.0 1613.0,1742.4 1614.8,1725.7 1616.6,1736.6 1618.4,1721.2 1620.2,1737.2 1622.0,1715.8 1623.8,1745.1 1625.6,1723.8 1627.4,1737.9 1629.2,1722.7 1631.0,1738.7 1632.8,1728.7 1634.6,1746.3 1636.4,1728.7 1638.2,1745.4 1640.0,1731.2 1641.8,1751.8 1643.6,1732.3 1645.4,1748.2 1647.2,1730.5 1649.0,1738.7 1650.8,1731.3 1652.6,1743.3 1654.4,1725.9 1656.2,1738.5 1658.0,1723.3 1659.8,1746.6 1661.6,1727.2 1663.4,1738.5 1665.2,1711.8 1667.0,1732.3 1668.8,1719.5 1670.6,1730.8 1672.4,1711.9 1674.2,1722.7 1676.0,1702.8 1677.8,1713.9 1679.6,1698.0 1681.4,1697.6 1683.2,1683.0 1685.0,1675.8 1686.8,1657.0 1688.6,1643.9 1690.4,1617.1 1692.2,1600.0 1694.0,1592.0 1695.8,1614.4 1697.6,1643.5 1699.4,1672.6 1701.2,1680.8 1703.0,1699.1 1704.8,1705.7 1706.6,1729.5 1708.4,1711.9 1710.2,1733.4 1712.0,1718.2 1713.8,1739.1 1715.6,1726.2 1717.4,1744.2 1719.2,1723.4 1721.0,1739.4 1722.8,1722.1 1724.6,1748.7 1726.4,1718.2 1728.2,1746.5 1730.0,1728.4 1731.8,1749.6 1733.6,1726.1 1735.4,1749.4 1737.2,1720.1 1739.0,1743.0 1740.8,1727.9 1742.6,1744.3 1744.4,1724.4 1746.2,1736.5 1748.0,1726.3 1749.8,1740.5 1751.6,1725.0 1753.4,1732.6 1755.2,1716.5 1757.0,1734.4 1758.8,1713.4 1760.6,1736.3 1762.4,1716.9 1764.2,1745.9 1766.0,1724.1 1767.8,1739.6 1769.6,1722.9 1771.4,1734.9 1773.2,1723.0 1775.0,1742.7 1776.8,1722.6 1778.6,1738.2 1780.4,1712.9 1782.2,1739.1 1784.0,1715.5 1785.8,1728.7 1787.6,1704.9 1789.4,1725.7 1791.2,1707.7 1793.0,1727.0 1794.8,1707.0 1796.6,1722.4 1798.4,1709.3 1800.2,1720.2 1802.0,1703.1 1803.8,1725.2 1805.6,1707.0 1807.4,1722.5 1809.2,1704.8 1811.0,1720.0 1812.8,1692.2 1814.6,1718.0 1816.4,1707.0 1818.2,1722.0 1820.0,1704.2 1821.8,1721.4 1823.6,1702.3 1825.4,1713.1 1827.2,1700.5 1829.0,1727.4 1830.8,1686.0 1832.6,1711.1 1834.4,1698.4 1836.2,1716.1 1838.0,1695.8 1839.8,1713.2 1841.6,1701.1 1843.4,1711.9 1845.2,1684.8 1847.0,1715.9 1848.8,1697.0 1850.6,1710.2 1852.4,1698.7 1854.2,1712.9 1856.0,1692.6 1857.8,1717.3 1859.6,1683.7 1861.4,1709.4 1863.2,1692.6 1865.0,1714.6 1866.8,1688.2 1868.6,1701.2 1870.4,1674.5 1872.2,1708.8 1874.0,1680.4 1875.8,1702.4 1877.6,1675.8 1879.4,1692.4 1881.2,1676.3 1883.0,1702.7 1884.8,1681.0 1886.6,1703.0 1888.4,1665.0 1890.2,1708.6 1892.0,1678.5 1893.8,1700.9 1895.6,1683.1 1897.4,1699.5 1899.2,1675.2 1901.0,1699.2 1902.8,1679.3 1904.6,1695.5 1906.4,1665.7 1908.2,1688.3 1910.0,1674.7 1911.8,1685.8 1913.6,1667.5 1915.4,1686.3 1917.2,1654.5 1919.0,1704.0 1920.8,1669.8 1922.6,1688.1 1924.4,1676.5 1926.2,1696.5 1928.0,1671.0 1929.8,1689.7 1931.6,1672.1 1933.4,1694.7 1935.2,1664.4 1937.0,1698.0 1938.8,1660.2 1940.6,1684.9 1942.4,1666.2 1944.2,1696.4 1946.0,1671.7 1947.8,1689.0 1949.6,1671.6 1951.4,1690.3 1953.2,1676.4 1955.0,1698.8 1956.8,1668.3 1958.6,1704.2 1960.4,1667.4 1962.2,1682.1 1964.0,1669.4 1965.8,1682.9 1967.6,1667.1 1969.4,1684.0 1971.2,1667.4 1973.0,1686.5 1974.8,1662.5 1976.6,1684.5 1978.4,1659.8 1980.2,1694.6 1982.0,1649.4 1983.8,1674.7 1985.6,1653.1 1987.4,1670.4 1989.2,1637.7 1991.0,1645.2 1992.8,1629.1 1994.6,1628.6 1996.4,1607.6 1998.2,1608.1 2000.0,1593.1 2001.8,1604.6 2003.6,1609.8 2005.4,1629.2 2007.2,1623.5 2009.0,1644.8 2010.8,1625.6 2012.6,1646.0 2014.4,1611.8 2016.2,1657.3 2018.0,1631.5 2019.8,1650.5 2021.6,1631.9 2023.4,1653.9 2025.2,1623.8 2027.0,1653.7 2028.8,1642.6 2030.6,1669.0 2032.4,1636.5 2034.2,1661.4 2036.0,1635.5 2037.8,1664.5 2039.6,1641.7 2041.4,1663.8 2043.2,1652.7 2045.0,1674.5 2046.8,1655.0 2048.6,1680.9 2050.4,1643.7 2052.2,1689.3 2054.0,1646.2 2055.8,1683.9 2057.6,1665.1 2059.4,1689.1 2061.2,1669.6 2063.0,1688.7 2064.8,1670.1 2066.6,1693.2 2068.4,1672.9 2070.2,1694.7 2072.0,1661.7 2073.8,1692.7 2075.6,1674.3 2077.4,1695.5 2079.2,1661.1 2081.0,1698.6 2082.8,1665.9 2084.6,1701.7 2086.4,1666.1 2088.2,1691.8 2090.0,1674.0 2091.8,1683.4 2093.6,1674.3 2095.4,1693.4 2097.2,1665.2 2099.0,1680.3 2100.8,1657.3 2102.6,1689.5 2104.4,1643.0 2106.2,1679.7 2108.0,1645.5 2109.8,1658.5 2111.6,1640.9 2113.4,1653.5 2115.2,1635.4 2117.0,1657.0 2118.8,1643.2 2120.6,1659.8 2122.4,1649.2 2124.2,1672.9 2126.0,1658.6 2127.8,1677.3 2129.6,1657.2 2131.4,1686.5 2133.2,1665.8 2135.0,1687.4 2136.8,1667.6 2138.6,1684.6 2140.4,1661.7 2142.2,1681.1 2144.0,1670.4 2145.8,1684.6 2147.6,1653.1 2149.4,1689.3 2151.2,1671.4 2153.0,1693.0 2154.8,1660.9 2156.6,1691.9 2158.4,1676.3 2160.2,1698.4 2162.0,1677.6 2163.8,1701.8 2165.6,1683.9 2167.4,1705.8 2169.2,1685.2 2171.0,1703.7 2172.8,1680.3 2174.6,1706.1 2176.4,1685.8 2178.2,1705.2 2180.0,1687.2 2181.8,1712.3 2183.6,1685.9 2185.4,1704.2 2187.2,1693.0 2189.0,1704.2 2190.8,1685.7 2192.6,1710.6 2194.4,1689.8 2196.2,1707.2 2198.0,1691.7 2199.8,1714.8 2201.6,1697.4 2203.4,1712.5 2205.2,1697.3 2207.0,1719.7 2208.8,1691.9 2210.6,1707.4 2212.4,1699.3 2214.2,1721.3 2216.0,1700.5 2217.8,1723.3 2219.6,1692.9 2221.4,1718.5 2223.2,1706.3 2225.0,1717.7 2226.8,1705.1 2228.6,1729.2 2230.4,1704.1 2232.2,1723.1 2234.0,1704.4 2235.8,1716.2 2237.6,1705.9 2239.4,1715.1 2241.2,1696.7 2243.0,1717.3 2244.8,1700.8 2246.6,1725.0 2248.4,1706.6 2250.2,1723.4 2252.0,1706.0 2253.8,1725.9 2255.6,1707.5 2257.4,1723.3 2259.2,1706.9 2261.0,1729.4 2262.8,1702.9 2264.6,1730.8 2266.4,1715.5 2268.2,1733.4 2270.0,1714.3 2271.8,1728.9 2273.6,1717.2 2275.4,1732.1 2277.2,1715.1 2279.0,1732.7 2280.8,1716.8 2282.6,1735.2 2284.4,1715.8 2286.2,1732.4 2288.0,1716.7 2289.8,1730.7 2291.6,1719.5 2293.4,1728.8 2295.2,1717.0 2297.0,1729.9 2298.8,1717.5 2300.6,1739.4 2302.4,1721.7 2304.2,1740.7 2306.0,1725.4 2307.8,1740.4 2309.6,1721.2 2311.4,1738.3 2313.2,1727.0 2315.0,1742.0 2316.8,1732.0 2318.6,1746.4 2320.4,1723.3 2322.2,1744.9 2324.0,1728.3 2325.8,1745.3 2327.6,1728.5 2329.4,1740.3" fill="none" stroke="#6656dc" stroke-width="2.7" stroke-linejoin="round" stroke-linecap="round"/>
<line x1="1451.0" y1="1492.0" x2="1451.0" y2="2395.4" stroke="#7c7c81" stroke-width="4.8"/>
<line x1="1448.6" y1="2393.0" x2="2332.0" y2="2393.0" stroke="#7c7c81" stroke-width="4.8"/>
<line x1="1627.0" y1="2383.0" x2="1627.0" y2="2393.0" stroke="#7c7c81" stroke-width="4.2"/>
<line x1="1802.5" y1="2383.0" x2="1802.5" y2="2393.0" stroke="#7c7c81" stroke-width="4.2"/>
<line x1="1978.0" y1="2383.0" x2="1978.0" y2="2393.0" stroke="#7c7c81" stroke-width="4.2"/>
<line x1="2154.0" y1="2383.0" x2="2154.0" y2="2393.0" stroke="#7c7c81" stroke-width="4.2"/>
<line x1="2330.0" y1="2383.0" x2="2330.0" y2="2393.0" stroke="#7c7c81" stroke-width="4.2"/>
<text x="1652.3" y="1477.5" font-size="58" textLength="88.4" lengthAdjust="spacingAndGlyphs">12°</text>
<text x="1823.8" y="1477.5" font-size="58" textLength="86.4" lengthAdjust="spacingAndGlyphs">17°</text>
<text x="1966.3" y="1477.5" font-size="58" textLength="91.4" lengthAdjust="spacingAndGlyphs">21°</text>
<text x="2086.3" y="1477.5" font-size="58" textLength="91.4" lengthAdjust="spacingAndGlyphs">24°</text>
<text x="2134.9" y="1646.0" font-size="60" textLength="264.2" lengthAdjust="spacingAndGlyphs">L/D mix-4</text>
<text x="2139.9" y="1840.0" font-size="60" textLength="264.2" lengthAdjust="spacingAndGlyphs">L/D mix-3</text>
<text x="2147.4" y="2055.0" font-size="60" textLength="266.7" lengthAdjust="spacingAndGlyphs">L/D mix-2</text>
<text x="2147.5" y="2232.5" font-size="60" textLength="254.0" lengthAdjust="spacingAndGlyphs">L/D mix-1</text>
<text x="1439.8" y="2460.0" font-size="58" textLength="30.5" lengthAdjust="spacingAndGlyphs">5</text>
<text x="1593.5" y="2460.0" font-size="58" textLength="61.5" lengthAdjust="spacingAndGlyphs">10</text>
<text x="1772.0" y="2460.0" font-size="58" textLength="61.5" lengthAdjust="spacingAndGlyphs">15</text>
<text x="1946.5" y="2460.0" font-size="58" textLength="65.5" lengthAdjust="spacingAndGlyphs">20</text>
<text x="2118.0" y="2460.0" font-size="58" textLength="64.5" lengthAdjust="spacingAndGlyphs">25</text>
<text x="2289.5" y="2460.0" font-size="58" textLength="64.5" lengthAdjust="spacingAndGlyphs">30</text>
<text x="1744.3" y="2561.0" font-size="58" textLength="281.4" lengthAdjust="spacingAndGlyphs">2<tspan style='font-family:"Liberation Serif", serif' font-style="italic">θ</tspan> degrees</text>
<text x="1403.0" y="2032.8" font-size="60" textLength="227.6" lengthAdjust="spacingAndGlyphs" transform="rotate(-90 1403.0 2032.8)">Intensity</text>
</g>
</svg>
</body>
</html>
